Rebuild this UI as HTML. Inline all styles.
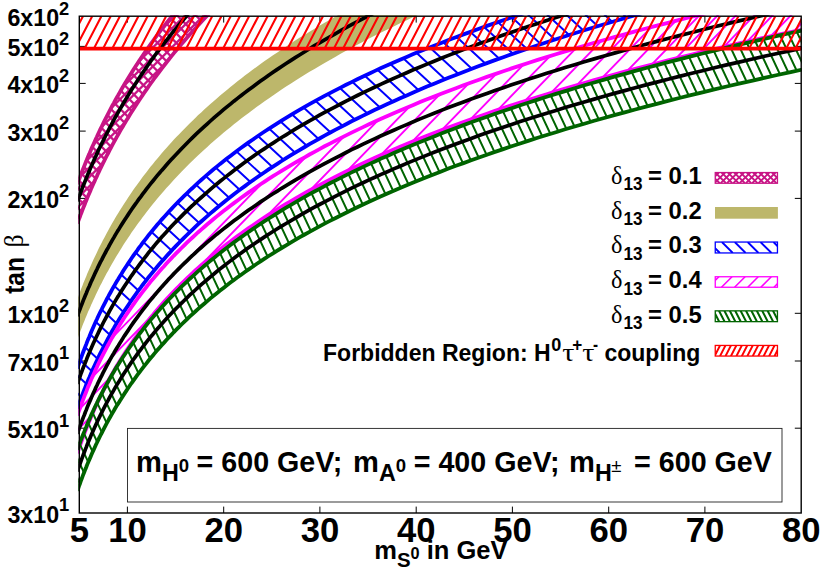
<!DOCTYPE html>
<html><head><meta charset="utf-8"><title>plot</title>
<style>html,body{margin:0;padding:0;background:#fff}svg{display:block}</style></head>
<body>
<svg width="830" height="581" viewBox="0 0 830 581">
<rect width="830" height="581" fill="#fff"/>
<defs>
<clipPath id="cf"><rect x="78.3" y="15.2" width="723.4" height="498.8"/></clipPath>
<clipPath id="cbv"><polygon points="77.4,184.2 78.2,181.9 79.0,179.7 79.9,177.4 80.7,175.1 81.6,172.8 82.5,170.5 83.4,168.2 84.4,165.8 85.3,163.5 86.3,161.1 87.2,158.7 88.2,156.3 89.3,153.9 90.3,151.5 91.3,149.1 92.4,146.6 93.5,144.2 94.6,141.7 95.7,139.2 96.9,136.7 98.0,134.2 99.2,131.7 100.4,129.1 101.7,126.6 102.9,124.0 104.2,121.5 105.5,118.9 106.8,116.3 108.2,113.7 109.5,111.0 110.9,108.4 112.3,105.7 113.8,103.1 115.2,100.4 116.7,97.7 118.3,95.0 119.8,92.3 121.4,89.5 123.0,86.8 124.6,84.0 126.3,81.3 128.0,78.5 129.7,75.7 131.4,72.9 133.2,70.1 135.0,67.2 136.9,64.4 138.7,61.5 140.7,58.6 142.6,55.8 144.6,52.9 146.6,49.9 148.6,47.0 150.7,44.1 152.9,41.1 155.0,38.2 157.2,35.2 159.5,32.2 161.7,29.2 164.1,26.2 166.4,23.2 168.8,20.1 171.3,17.1 173.7,14.0 176.3,10.9 178.9,7.8 181.5,4.7 184.2,1.6 186.9,-1.5 189.6,-4.7 192.5,-7.9 195.3,-11.0 198.2,-14.2 201.2,-17.4 204.2,-20.6 207.3,-23.8 210.4,-27.1 213.6,-30.3 216.8,-33.6 220.1,-36.9 223.5,-40.2 226.9,-43.5 230.4,-46.8 233.9,-50.1 237.5,-53.4 241.2,-56.8 244.9,-60.2 248.7,-63.5 252.6,-66.9 256.5,-70.3 260.5,-73.8 264.6,-77.2 268.7,-80.6 273.0,-84.1 277.3,-87.6 281.6,-91.0 286.1,-94.5 290.6,-98.0 295.2,-101.6 299.9,-105.1 304.7,-108.6 309.5,-112.2 314.5,-115.8 319.5,-119.4 324.6,-123.0 329.9,-126.6 335.2,-130.2 340.6,-133.8 346.1,-137.5 351.6,-141.2 357.3,-144.8 363.1,-148.5 369.0,-152.2 375.0,-156.0 381.1,-159.7 387.4,-163.4 393.7,-167.2 400.1,-170.9 406.7,-174.7 413.3,-178.5 420.1,-182.3 427.0,-186.2 434.1,-190.0 441.2,-193.8 448.5,-197.7 455.9,-201.6 463.5,-205.4 471.2,-209.3 479.0,-213.3 486.9,-217.2 495.0,-221.1 503.3,-225.1 511.6,-229.0 520.2,-233.0 528.9,-237.0 537.7,-241.0 546.7,-245.0 555.9,-249.0 565.2,-253.1 574.7,-257.1 584.3,-261.2 594.2,-265.3 604.2,-269.4 614.3,-273.5 624.7,-277.6 635.2,-281.7 646.0,-285.9 656.9,-290.0 668.0,-294.2 679.3,-298.4 690.8,-302.6 702.5,-306.8 714.5,-311.0 726.6,-315.3 739.0,-319.5 751.5,-323.8 764.3,-328.0 777.3,-332.3 790.6,-336.6 804.1,-340.9 804.1,-301.6 790.6,-297.2 777.3,-292.9 764.3,-288.7 751.5,-284.4 739.0,-280.1 726.6,-275.9 714.5,-271.6 702.5,-267.4 690.8,-263.2 679.3,-259.0 668.0,-254.8 656.9,-250.7 646.0,-246.5 635.2,-242.4 624.7,-238.2 614.3,-234.1 604.2,-230.0 594.2,-225.9 584.3,-221.8 574.7,-217.8 565.2,-213.7 555.9,-209.7 546.7,-205.6 537.7,-201.6 528.9,-197.6 520.2,-193.6 511.6,-189.7 503.3,-185.7 495.0,-181.7 486.9,-177.8 479.0,-173.9 471.2,-170.0 463.5,-166.1 455.9,-162.2 448.5,-158.3 441.2,-154.5 434.1,-150.6 427.0,-146.8 420.1,-143.0 413.3,-139.1 406.7,-135.4 400.1,-131.6 393.7,-127.8 387.4,-124.0 381.1,-120.3 375.0,-116.6 369.0,-112.9 363.1,-109.2 357.3,-105.5 351.6,-101.8 346.1,-98.1 340.6,-94.5 335.2,-90.8 329.9,-87.2 324.6,-83.6 319.5,-80.0 314.5,-76.4 309.5,-72.8 304.7,-69.3 299.9,-65.7 295.2,-62.2 290.6,-58.7 286.1,-55.2 281.6,-51.7 277.3,-48.2 273.0,-44.7 268.7,-41.2 264.6,-37.8 260.5,-34.4 256.5,-31.0 252.6,-27.6 248.7,-24.2 244.9,-20.8 241.2,-17.4 237.5,-14.1 233.9,-10.7 230.4,-7.4 226.9,-4.1 223.5,-0.8 220.1,2.5 216.8,5.8 213.6,9.1 210.4,12.3 207.3,15.5 204.2,18.8 201.2,22.0 198.2,25.2 195.3,28.4 192.5,31.5 189.6,34.7 186.9,37.8 184.2,41.0 181.5,44.1 178.9,47.2 176.3,50.3 173.7,53.4 171.3,56.4 168.8,59.5 166.4,62.5 164.1,65.6 161.7,68.6 159.5,71.6 157.2,74.6 155.0,77.5 152.9,80.5 150.7,83.5 148.6,86.4 146.6,89.3 144.6,92.2 142.6,95.1 140.7,98.0 138.7,100.9 136.9,103.8 135.0,106.6 133.2,109.4 131.4,112.3 129.7,115.1 128.0,117.9 126.3,120.6 124.6,123.4 123.0,126.2 121.4,128.9 119.8,131.6 118.3,134.4 116.7,137.1 115.2,139.8 113.8,142.4 112.3,145.1 110.9,147.8 109.5,150.4 108.2,153.0 106.8,155.6 105.5,158.2 104.2,160.8 102.9,163.4 101.7,166.0 100.4,168.5 99.2,171.1 98.0,173.6 96.9,176.1 95.7,178.6 94.6,181.1 93.5,183.5 92.4,186.0 91.3,188.4 90.3,190.9 89.3,193.3 88.2,195.7 87.2,198.1 86.3,200.5 85.3,202.8 84.4,205.2 83.4,207.5 82.5,209.9 81.6,212.2 80.7,214.5 79.9,216.8 79.0,219.1 78.2,221.3 77.4,223.6"/></clipPath>
<clipPath id="cbk"><polygon points="77.4,299.2 78.2,296.9 79.0,294.6 79.9,292.3 80.7,290.1 81.6,287.8 82.5,285.5 83.4,283.1 84.4,280.8 85.3,278.5 86.3,276.2 87.2,273.8 88.2,271.5 89.3,269.1 90.3,266.8 91.3,264.4 92.4,262.0 93.5,259.6 94.6,257.3 95.7,254.9 96.9,252.5 98.0,250.0 99.2,247.6 100.4,245.2 101.7,242.8 102.9,240.3 104.2,237.9 105.5,235.4 106.8,233.0 108.2,230.5 109.5,228.1 110.9,225.6 112.3,223.1 113.8,220.6 115.2,218.1 116.7,215.6 118.3,213.1 119.8,210.6 121.4,208.0 123.0,205.5 124.6,202.9 126.3,200.4 128.0,197.8 129.7,195.3 131.4,192.7 133.2,190.1 135.0,187.6 136.9,185.0 138.7,182.4 140.7,179.8 142.6,177.1 144.6,174.5 146.6,171.9 148.6,169.3 150.7,166.6 152.9,164.0 155.0,161.3 157.2,158.7 159.5,156.0 161.7,153.3 164.1,150.6 166.4,148.0 168.8,145.3 171.3,142.6 173.7,139.8 176.3,137.1 178.9,134.4 181.5,131.7 184.2,128.9 186.9,126.2 189.6,123.4 192.5,120.7 195.3,117.9 198.2,115.1 201.2,112.4 204.2,109.6 207.3,106.8 210.4,104.0 213.6,101.2 216.8,98.4 220.1,95.5 223.5,92.7 226.9,89.9 230.4,87.0 233.9,84.2 237.5,81.3 241.2,78.5 244.9,75.6 248.7,72.7 252.6,69.8 256.5,66.9 260.5,64.0 264.6,61.1 268.7,58.2 273.0,55.3 277.3,52.4 281.6,49.5 286.1,46.5 290.6,43.6 295.2,40.6 299.9,37.6 304.7,34.7 309.5,31.7 314.5,28.7 319.5,25.7 324.6,22.7 329.9,19.7 335.2,16.7 340.6,13.7 346.1,10.7 351.6,7.7 357.3,4.6 363.1,1.6 369.0,-1.5 375.0,-4.5 381.1,-7.6 387.4,-10.7 393.7,-13.8 400.1,-16.8 406.7,-19.9 413.3,-23.0 420.1,-26.2 427.0,-29.3 434.1,-32.4 441.2,-35.5 448.5,-38.7 455.9,-41.8 463.5,-44.9 471.2,-48.1 479.0,-51.3 486.9,-54.4 495.0,-57.6 503.3,-60.8 511.6,-64.0 520.2,-67.2 528.9,-70.4 537.7,-73.6 546.7,-76.8 555.9,-80.1 565.2,-83.3 574.7,-86.5 584.3,-89.8 594.2,-93.0 604.2,-96.3 614.3,-99.6 624.7,-102.8 635.2,-106.1 646.0,-109.4 656.9,-112.7 668.0,-116.0 679.3,-119.3 690.8,-122.6 702.5,-126.0 714.5,-129.3 726.6,-132.6 739.0,-136.0 751.5,-139.3 764.3,-142.7 777.3,-146.1 790.6,-149.4 804.1,-152.8 804.1,-112.7 790.6,-109.3 777.3,-105.9 764.3,-102.6 751.5,-99.2 739.0,-95.8 726.6,-92.5 714.5,-89.2 702.5,-85.8 690.8,-82.5 679.3,-79.2 668.0,-75.9 656.9,-72.6 646.0,-69.3 635.2,-66.0 624.7,-62.7 614.3,-59.4 604.2,-56.2 594.2,-52.9 584.3,-49.6 574.7,-46.4 565.2,-43.2 555.9,-39.9 546.7,-36.7 537.7,-33.5 528.9,-30.3 520.2,-27.1 511.6,-23.9 503.3,-20.7 495.0,-17.5 486.9,-14.3 479.0,-11.1 471.2,-8.0 463.5,-4.8 455.9,-1.7 448.5,1.5 441.2,4.6 434.1,7.7 427.0,10.9 420.1,14.0 413.3,17.1 406.7,20.2 400.1,23.3 393.7,26.4 387.4,29.5 381.1,32.5 375.0,35.6 369.0,38.6 363.1,41.7 357.3,44.7 351.6,47.8 346.1,50.8 340.6,53.8 335.2,56.9 329.9,59.9 324.6,62.9 319.5,65.9 314.5,68.9 309.5,71.8 304.7,74.8 299.9,77.8 295.2,80.7 290.6,83.7 286.1,86.6 281.6,89.6 277.3,92.5 273.0,95.4 268.7,98.4 264.6,101.3 260.5,104.2 256.5,107.1 252.6,110.0 248.7,112.9 244.9,115.7 241.2,118.6 237.5,121.5 233.9,124.3 230.4,127.2 226.9,130.0 223.5,132.8 220.1,135.7 216.8,138.5 213.6,141.3 210.4,144.1 207.3,146.9 204.2,149.7 201.2,152.5 198.2,155.3 195.3,158.1 192.5,160.8 189.6,163.6 186.9,166.3 184.2,169.1 181.5,171.8 178.9,174.5 176.3,177.3 173.7,180.0 171.3,182.7 168.8,185.4 166.4,188.1 164.1,190.8 161.7,193.5 159.5,196.1 157.2,198.8 155.0,201.5 152.9,204.1 150.7,206.8 148.6,209.4 146.6,212.0 144.6,214.7 142.6,217.3 140.7,219.9 138.7,222.5 136.9,225.1 135.0,227.7 133.2,230.3 131.4,232.8 129.7,235.4 128.0,238.0 126.3,240.5 124.6,243.1 123.0,245.6 121.4,248.2 119.8,250.7 118.3,253.2 116.7,255.7 115.2,258.2 113.8,260.7 112.3,263.2 110.9,265.7 109.5,268.2 108.2,270.7 106.8,273.1 105.5,275.6 104.2,278.0 102.9,280.5 101.7,282.9 100.4,285.3 99.2,287.8 98.0,290.2 96.9,292.6 95.7,295.0 94.6,297.4 93.5,299.8 92.4,302.2 91.3,304.5 90.3,306.9 89.3,309.3 88.2,311.6 87.2,314.0 86.3,316.3 85.3,318.6 84.4,321.0 83.4,323.3 82.5,325.6 81.6,327.9 80.7,330.2 79.9,332.5 79.0,334.8 78.2,337.0 77.4,339.3"/></clipPath>
<clipPath id="cbb"><polygon points="77.4,368.6 78.2,366.2 79.0,363.7 79.9,361.3 80.7,358.8 81.6,356.4 82.5,353.9 83.4,351.5 84.4,349.0 85.3,346.6 86.3,344.1 87.2,341.6 88.2,339.2 89.3,336.7 90.3,334.2 91.3,331.7 92.4,329.3 93.5,326.8 94.6,324.3 95.7,321.8 96.9,319.3 98.0,316.8 99.2,314.3 100.4,311.8 101.7,309.3 102.9,306.8 104.2,304.3 105.5,301.8 106.8,299.2 108.2,296.7 109.5,294.2 110.9,291.7 112.3,289.1 113.8,286.6 115.2,284.1 116.7,281.5 118.3,279.0 119.8,276.4 121.4,273.9 123.0,271.3 124.6,268.8 126.3,266.2 128.0,263.6 129.7,261.1 131.4,258.5 133.2,255.9 135.0,253.4 136.9,250.8 138.7,248.2 140.7,245.6 142.6,243.0 144.6,240.4 146.6,237.8 148.6,235.2 150.7,232.6 152.9,230.0 155.0,227.4 157.2,224.8 159.5,222.2 161.7,219.6 164.1,217.0 166.4,214.4 168.8,211.7 171.3,209.1 173.7,206.5 176.3,203.8 178.9,201.2 181.5,198.6 184.2,195.9 186.9,193.3 189.6,190.6 192.5,188.0 195.3,185.3 198.2,182.6 201.2,180.0 204.2,177.3 207.3,174.6 210.4,172.0 213.6,169.3 216.8,166.6 220.1,163.9 223.5,161.3 226.9,158.6 230.4,155.9 233.9,153.2 237.5,150.5 241.2,147.8 244.9,145.1 248.7,142.4 252.6,139.7 256.5,137.0 260.5,134.2 264.6,131.5 268.7,128.8 273.0,126.1 277.3,123.3 281.6,120.6 286.1,117.9 290.6,115.1 295.2,112.4 299.9,109.7 304.7,106.9 309.5,104.2 314.5,101.4 319.5,98.7 324.6,95.9 329.9,93.1 335.2,90.4 340.6,87.6 346.1,84.8 351.6,82.1 357.3,79.3 363.1,76.5 369.0,73.7 375.0,70.9 381.1,68.1 387.4,65.3 393.7,62.5 400.1,59.7 406.7,56.9 413.3,54.1 420.1,51.3 427.0,48.5 434.1,45.7 441.2,42.9 448.5,40.1 455.9,37.2 463.5,34.4 471.2,31.6 479.0,28.7 486.9,25.9 495.0,23.1 503.3,20.2 511.6,17.4 520.2,14.5 528.9,11.7 537.7,8.8 546.7,6.0 555.9,3.1 565.2,0.2 574.7,-2.6 584.3,-5.5 594.2,-8.4 604.2,-11.3 614.3,-14.1 624.7,-17.0 635.2,-19.9 646.0,-22.8 656.9,-25.7 668.0,-28.6 679.3,-31.5 690.8,-34.4 702.5,-37.3 714.5,-40.2 726.6,-43.1 739.0,-46.0 751.5,-49.0 764.3,-51.9 777.3,-54.8 790.6,-57.7 804.1,-60.7 804.1,-27.8 790.6,-24.7 777.3,-21.6 764.3,-18.5 751.5,-15.4 739.0,-12.4 726.6,-9.3 714.5,-6.2 702.5,-3.2 690.8,-0.1 679.3,3.0 668.0,6.0 656.9,9.1 646.0,12.1 635.2,15.1 624.7,18.2 614.3,21.2 604.2,24.2 594.2,27.2 584.3,30.2 574.7,33.3 565.2,36.3 555.9,39.3 546.7,42.3 537.7,45.2 528.9,48.2 520.2,51.2 511.6,54.2 503.3,57.2 495.0,60.1 486.9,63.1 479.0,66.0 471.2,69.0 463.5,71.9 455.9,74.9 448.5,77.8 441.2,80.8 434.1,83.7 427.0,86.6 420.1,89.5 413.3,92.4 406.7,95.4 400.1,98.3 393.7,101.2 387.4,104.1 381.1,107.0 375.0,109.8 369.0,112.7 363.1,115.6 357.3,118.5 351.6,121.3 346.1,124.2 340.6,127.1 335.2,129.9 329.9,132.8 324.6,135.6 319.5,138.5 314.5,141.3 309.5,144.1 304.7,147.0 299.9,149.8 295.2,152.6 290.6,155.4 286.1,158.2 281.6,161.0 277.3,163.8 273.0,166.6 268.7,169.4 264.6,172.2 260.5,175.0 256.5,177.8 252.6,180.5 248.7,183.3 244.9,186.1 241.2,188.8 237.5,191.6 233.9,194.3 230.4,197.1 226.9,199.8 223.5,202.5 220.1,205.3 216.8,208.0 213.6,210.7 210.4,213.4 207.3,216.1 204.2,218.8 201.2,221.5 198.2,224.2 195.3,226.9 192.5,229.6 189.6,232.3 186.9,235.0 184.2,237.7 181.5,240.3 178.9,243.0 176.3,245.7 173.7,248.3 171.3,251.0 168.8,253.6 166.4,256.2 164.1,258.9 161.7,261.5 159.5,264.1 157.2,266.8 155.0,269.4 152.9,272.0 150.7,274.6 148.6,277.2 146.6,279.8 144.6,282.4 142.6,285.0 140.7,287.6 138.7,290.2 136.9,292.7 135.0,295.3 133.2,297.9 131.4,300.4 129.7,303.0 128.0,305.6 126.3,308.1 124.6,310.6 123.0,313.2 121.4,315.7 119.8,318.3 118.3,320.8 116.7,323.3 115.2,325.8 113.8,328.3 112.3,330.8 110.9,333.3 109.5,335.8 108.2,338.3 106.8,340.8 105.5,343.3 104.2,345.8 102.9,348.3 101.7,350.7 100.4,353.2 99.2,355.6 98.0,358.1 96.9,360.6 95.7,363.0 94.6,365.4 93.5,367.9 92.4,370.3 91.3,372.7 90.3,375.2 89.3,377.6 88.2,380.0 87.2,382.4 86.3,384.8 85.3,387.2 84.4,389.6 83.4,392.0 82.5,394.4 81.6,396.8 80.7,399.1 79.9,401.5 79.0,403.9 78.2,406.2 77.4,408.6"/></clipPath>
<clipPath id="cbm"><polygon points="77.4,415.6 78.2,413.2 79.0,410.8 79.9,408.4 80.7,406.0 81.6,403.6 82.5,401.2 83.4,398.8 84.4,396.3 85.3,393.9 86.3,391.5 87.2,389.1 88.2,386.6 89.3,384.2 90.3,381.8 91.3,379.3 92.4,376.9 93.5,374.4 94.6,372.0 95.7,369.5 96.9,367.1 98.0,364.6 99.2,362.2 100.4,359.7 101.7,357.2 102.9,354.8 104.2,352.3 105.5,349.8 106.8,347.3 108.2,344.8 109.5,342.3 110.9,339.9 112.3,337.4 113.8,334.9 115.2,332.4 116.7,329.9 118.3,327.3 119.8,324.8 121.4,322.3 123.0,319.8 124.6,317.3 126.3,314.8 128.0,312.2 129.7,309.7 131.4,307.2 133.2,304.6 135.0,302.1 136.9,299.5 138.7,297.0 140.7,294.4 142.6,291.9 144.6,289.3 146.6,286.8 148.6,284.2 150.7,281.6 152.9,279.1 155.0,276.5 157.2,273.9 159.5,271.3 161.7,268.7 164.1,266.2 166.4,263.6 168.8,261.0 171.3,258.4 173.7,255.8 176.3,253.2 178.9,250.6 181.5,248.0 184.2,245.3 186.9,242.7 189.6,240.1 192.5,237.5 195.3,234.9 198.2,232.2 201.2,229.6 204.2,227.0 207.3,224.3 210.4,221.7 213.6,219.0 216.8,216.4 220.1,213.7 223.5,211.1 226.9,208.4 230.4,205.7 233.9,203.1 237.5,200.4 241.2,197.7 244.9,195.1 248.7,192.4 252.6,189.7 256.5,187.0 260.5,184.3 264.6,181.6 268.7,178.9 273.0,176.2 277.3,173.5 281.6,170.8 286.1,168.1 290.6,165.4 295.2,162.7 299.9,160.0 304.7,157.3 309.5,154.5 314.5,151.8 319.5,149.1 324.6,146.3 329.9,143.6 335.2,140.9 340.6,138.1 346.1,135.4 351.6,132.6 357.3,129.9 363.1,127.1 369.0,124.3 375.0,121.6 381.1,118.8 387.4,116.0 393.7,113.3 400.1,110.5 406.7,107.7 413.3,104.9 420.1,102.1 427.0,99.3 434.1,96.6 441.2,93.8 448.5,91.0 455.9,88.2 463.5,85.3 471.2,82.5 479.0,79.7 486.9,76.9 495.0,74.1 503.3,71.3 511.6,68.4 520.2,65.6 528.9,62.8 537.7,59.9 546.7,57.1 555.9,54.3 565.2,51.4 574.7,48.6 584.3,45.7 594.2,42.8 604.2,40.0 614.3,37.1 624.7,34.3 635.2,31.4 646.0,28.5 656.9,25.6 668.0,22.8 679.3,19.9 690.8,17.0 702.5,14.1 714.5,11.2 726.6,8.3 739.0,5.4 751.5,2.5 764.3,-0.4 777.3,-3.3 790.6,-6.2 804.1,-9.1 804.1,29.2 790.6,32.0 777.3,34.9 764.3,37.7 751.5,40.6 739.0,43.4 726.6,46.3 714.5,49.1 702.5,51.9 690.8,54.8 679.3,57.6 668.0,60.4 656.9,63.3 646.0,66.1 635.2,68.9 624.7,71.7 614.3,74.5 604.2,77.3 594.2,80.2 584.3,83.0 574.7,85.8 565.2,88.6 555.9,91.4 546.7,94.2 537.7,97.0 528.9,99.8 520.2,102.5 511.6,105.3 503.3,108.1 495.0,110.9 486.9,113.7 479.0,116.5 471.2,119.2 463.5,122.0 455.9,124.8 448.5,127.5 441.2,130.3 434.1,133.1 427.0,135.8 420.1,138.6 413.3,141.3 406.7,144.1 400.1,146.8 393.7,149.6 387.4,152.3 381.1,155.1 375.0,157.8 369.0,160.6 363.1,163.3 357.3,166.0 351.6,168.8 346.1,171.5 340.6,174.2 335.2,176.9 329.9,179.6 324.6,182.4 319.5,185.1 314.5,187.8 309.5,190.5 304.7,193.2 299.9,195.9 295.2,198.6 290.6,201.3 286.1,204.0 281.6,206.7 277.3,209.4 273.0,212.1 268.7,214.7 264.6,217.4 260.5,220.1 256.5,222.8 252.6,225.5 248.7,228.1 244.9,230.8 241.2,233.5 237.5,236.1 233.9,238.8 230.4,241.5 226.9,244.1 223.5,246.8 220.1,249.4 216.8,252.1 213.6,254.7 210.4,257.4 207.3,260.0 204.2,262.6 201.2,265.3 198.2,267.9 195.3,270.5 192.5,273.2 189.6,275.8 186.9,278.4 184.2,281.0 181.5,283.7 178.9,286.3 176.3,288.9 173.7,291.5 171.3,294.1 168.8,296.7 166.4,299.3 164.1,301.9 161.7,304.5 159.5,307.1 157.2,309.7 155.0,312.3 152.9,314.9 150.7,317.5 148.6,320.1 146.6,322.6 144.6,325.2 142.6,327.8 140.7,330.4 138.7,332.9 136.9,335.5 135.0,338.1 133.2,340.6 131.4,343.2 129.7,345.7 128.0,348.3 126.3,350.8 124.6,353.4 123.0,355.9 121.4,358.5 119.8,361.0 118.3,363.6 116.7,366.1 115.2,368.6 113.8,371.2 112.3,373.7 110.9,376.2 109.5,378.7 108.2,381.3 106.8,383.8 105.5,386.3 104.2,388.8 102.9,391.3 101.7,393.8 100.4,396.3 99.2,398.8 98.0,401.3 96.9,403.8 95.7,406.3 94.6,408.8 93.5,411.3 92.4,413.8 91.3,416.3 90.3,418.8 89.3,421.3 88.2,423.7 87.2,426.2 86.3,428.7 85.3,431.1 84.4,433.6 83.4,436.1 82.5,438.5 81.6,441.0 80.7,443.5 79.9,445.9 79.0,448.4 78.2,450.8 77.4,453.3"/></clipPath>
<clipPath id="cbg"><polygon points="77.4,449.9 78.2,447.6 79.0,445.3 79.9,443.0 80.7,440.6 81.6,438.3 82.5,436.0 83.4,433.7 84.4,431.4 85.3,429.0 86.3,426.7 87.2,424.3 88.2,422.0 89.3,419.6 90.3,417.3 91.3,414.9 92.4,412.6 93.5,410.2 94.6,407.8 95.7,405.5 96.9,403.1 98.0,400.7 99.2,398.3 100.4,395.9 101.7,393.5 102.9,391.1 104.2,388.7 105.5,386.3 106.8,383.9 108.2,381.5 109.5,379.1 110.9,376.6 112.3,374.2 113.8,371.8 115.2,369.3 116.7,366.9 118.3,364.5 119.8,362.0 121.4,359.6 123.0,357.1 124.6,354.7 126.3,352.2 128.0,349.7 129.7,347.2 131.4,344.8 133.2,342.3 135.0,339.8 136.9,337.3 138.7,334.8 140.7,332.3 142.6,329.8 144.6,327.3 146.6,324.8 148.6,322.3 150.7,319.8 152.9,317.3 155.0,314.7 157.2,312.2 159.5,309.7 161.7,307.1 164.1,304.6 166.4,302.1 168.8,299.5 171.3,297.0 173.7,294.4 176.3,291.8 178.9,289.3 181.5,286.7 184.2,284.1 186.9,281.6 189.6,279.0 192.5,276.4 195.3,273.8 198.2,271.2 201.2,268.6 204.2,266.0 207.3,263.4 210.4,260.8 213.6,258.2 216.8,255.6 220.1,252.9 223.5,250.3 226.9,247.7 230.4,245.0 233.9,242.4 237.5,239.8 241.2,237.1 244.9,234.5 248.7,231.8 252.6,229.2 256.5,226.5 260.5,223.8 264.6,221.2 268.7,218.5 273.0,215.8 277.3,213.1 281.6,210.4 286.1,207.7 290.6,205.1 295.2,202.4 299.9,199.6 304.7,196.9 309.5,194.2 314.5,191.5 319.5,188.8 324.6,186.1 329.9,183.3 335.2,180.6 340.6,177.9 346.1,175.1 351.6,172.4 357.3,169.7 363.1,166.9 369.0,164.1 375.0,161.4 381.1,158.6 387.4,155.9 393.7,153.1 400.1,150.3 406.7,147.5 413.3,144.7 420.1,142.0 427.0,139.2 434.1,136.4 441.2,133.6 448.5,130.8 455.9,128.0 463.5,125.1 471.2,122.3 479.0,119.5 486.9,116.7 495.0,113.8 503.3,111.0 511.6,108.2 520.2,105.3 528.9,102.5 537.7,99.6 546.7,96.8 555.9,93.9 565.2,91.1 574.7,88.2 584.3,85.3 594.2,82.5 604.2,79.6 614.3,76.7 624.7,73.8 635.2,70.9 646.0,68.0 656.9,65.1 668.0,62.2 679.3,59.3 690.8,56.4 702.5,53.5 714.5,50.6 726.6,47.7 739.0,44.7 751.5,41.8 764.3,38.9 777.3,35.9 790.6,33.0 804.1,30.1 804.1,69.2 790.6,72.1 777.3,75.0 764.3,77.9 751.5,80.8 739.0,83.7 726.6,86.5 714.5,89.4 702.5,92.3 690.8,95.2 679.3,98.0 668.0,100.9 656.9,103.8 646.0,106.6 635.2,109.5 624.7,112.3 614.3,115.2 604.2,118.0 594.2,120.8 584.3,123.7 574.7,126.5 565.2,129.3 555.9,132.2 546.7,135.0 537.7,137.8 528.9,140.6 520.2,143.5 511.6,146.3 503.3,149.1 495.0,151.9 486.9,154.7 479.0,157.5 471.2,160.3 463.5,163.1 455.9,165.8 448.5,168.6 441.2,171.4 434.1,174.2 427.0,177.0 420.1,179.7 413.3,182.5 406.7,185.3 400.1,188.0 393.7,190.8 387.4,193.5 381.1,196.3 375.0,199.0 369.0,201.8 363.1,204.5 357.3,207.3 351.6,210.0 346.1,212.7 340.6,215.5 335.2,218.2 329.9,220.9 324.6,223.6 319.5,226.4 314.5,229.1 309.5,231.8 304.7,234.5 299.9,237.2 295.2,239.9 290.6,242.6 286.1,245.3 281.6,248.0 277.3,250.6 273.0,253.3 268.7,256.0 264.6,258.7 260.5,261.4 256.5,264.0 252.6,266.7 248.7,269.4 244.9,272.0 241.2,274.7 237.5,277.3 233.9,280.0 230.4,282.6 226.9,285.3 223.5,287.9 220.1,290.6 216.8,293.2 213.6,295.8 210.4,298.4 207.3,301.1 204.2,303.7 201.2,306.3 198.2,308.9 195.3,311.5 192.5,314.1 189.6,316.7 186.9,319.3 184.2,321.9 181.5,324.5 178.9,327.1 176.3,329.7 173.7,332.3 171.3,334.9 168.8,337.5 166.4,340.0 164.1,342.6 161.7,345.2 159.5,347.7 157.2,350.3 155.0,352.9 152.9,355.4 150.7,358.0 148.6,360.5 146.6,363.1 144.6,365.6 142.6,368.1 140.7,370.7 138.7,373.2 136.9,375.7 135.0,378.3 133.2,380.8 131.4,383.3 129.7,385.8 128.0,388.3 126.3,390.9 124.6,393.4 123.0,395.9 121.4,398.4 119.8,400.9 118.3,403.4 116.7,405.8 115.2,408.3 113.8,410.8 112.3,413.3 110.9,415.8 109.5,418.2 108.2,420.7 106.8,423.2 105.5,425.6 104.2,428.1 102.9,430.6 101.7,433.0 100.4,435.5 99.2,437.9 98.0,440.4 96.9,442.8 95.7,445.2 94.6,447.7 93.5,450.1 92.4,452.5 91.3,455.0 90.3,457.4 89.3,459.8 88.2,462.2 87.2,464.6 86.3,467.0 85.3,469.4 84.4,471.8 83.4,474.2 82.5,476.6 81.6,479.0 80.7,481.4 79.9,483.8 79.0,486.2 78.2,488.6 77.4,490.9"/></clipPath>
</defs>
<g stroke="#000" stroke-width="1" fill="none">
<path d="M127.4 513.0v-6.4M127.4 16.2v6.4"/>
<path d="M223.7 513.0v-6.4M223.7 16.2v6.4"/>
<path d="M319.9 513.0v-6.4M319.9 16.2v6.4"/>
<path d="M416.2 513.0v-6.4M416.2 16.2v6.4"/>
<path d="M512.4 513.0v-6.4M512.4 16.2v6.4"/>
<path d="M608.7 513.0v-6.4M608.7 16.2v6.4"/>
<path d="M704.9 513.0v-6.4M704.9 16.2v6.4"/>
<path d="M79.3 46.4h6.4M801.2 46.4h-6.4"/>
<path d="M79.3 83.4h6.4M801.2 83.4h-6.4"/>
<path d="M79.3 131.1h6.4M801.2 131.1h-6.4"/>
<path d="M79.3 198.4h6.4M801.2 198.4h-6.4"/>
<path d="M79.3 313.3h6.4M801.2 313.3h-6.4"/>
<path d="M79.3 361.0h6.4M801.2 361.0h-6.4"/>
<path d="M79.3 428.2h6.4M801.2 428.2h-6.4"/>
</g>
<g clip-path="url(#cf)">
<g clip-path="url(#cbv)"><path stroke="#C71585" stroke-width="2.30" fill="none" d="M-144.7 13.2L65.6 223.6M-135.3 13.2L75.0 223.6M-125.9 13.2L84.4 223.6M-116.5 13.2L93.8 223.6M-107.1 13.2L103.2 223.6M-97.7 13.2L112.6 223.6M-88.3 13.2L122.0 223.6M-78.9 13.2L131.4 223.6M-69.5 13.2L140.8 223.6M-60.1 13.2L150.2 223.6M-50.7 13.2L159.6 223.6M-41.3 13.2L169.0 223.6M-31.9 13.2L178.4 223.6M-22.5 13.2L187.8 223.6M-13.1 13.2L197.2 223.6M-3.7 13.2L206.6 223.6M5.7 13.2L216.0 223.6M15.1 13.2L225.4 223.6M24.5 13.2L234.8 223.6M33.9 13.2L244.2 223.6M43.3 13.2L253.6 223.6M52.7 13.2L263.0 223.6M62.1 13.2L272.4 223.6M71.5 13.2L281.8 223.6M80.9 13.2L291.2 223.6M90.3 13.2L300.6 223.6M99.7 13.2L310.0 223.6M109.1 13.2L319.4 223.6M118.5 13.2L328.8 223.6M127.9 13.2L338.2 223.6M137.3 13.2L347.6 223.6M146.7 13.2L357.0 223.6M156.1 13.2L366.4 223.6M165.5 13.2L375.8 223.6M174.9 13.2L385.2 223.6M184.3 13.2L394.6 223.6M193.7 13.2L404.0 223.6M203.1 13.2L413.4 223.6M212.5 13.2L422.8 223.6M221.9 13.2L432.2 223.6M231.3 13.2L441.6 223.6M240.7 13.2L451.0 223.6M250.1 13.2L460.4 223.6M259.5 13.2L469.8 223.6M268.9 13.2L479.2 223.6M278.3 13.2L488.6 223.6M287.7 13.2L498.0 223.6M297.1 13.2L507.4 223.6M306.5 13.2L516.8 223.6M315.9 13.2L526.2 223.6M325.3 13.2L535.6 223.6M334.7 13.2L545.0 223.6M344.1 13.2L554.4 223.6M353.5 13.2L563.8 223.6M362.9 13.2L573.2 223.6M372.3 13.2L582.6 223.6M381.7 13.2L592.0 223.6M391.1 13.2L601.4 223.6M400.5 13.2L610.8 223.6M409.9 13.2L620.2 223.6M419.3 13.2L629.6 223.6M428.7 13.2L639.0 223.6M438.1 13.2L648.4 223.6M447.5 13.2L657.8 223.6M456.9 13.2L667.2 223.6M466.3 13.2L676.6 223.6M475.7 13.2L686.0 223.6M485.1 13.2L695.4 223.6M494.5 13.2L704.8 223.6M503.9 13.2L714.2 223.6M513.3 13.2L723.6 223.6M522.7 13.2L733.0 223.6M532.1 13.2L742.4 223.6M541.5 13.2L751.8 223.6M550.9 13.2L761.2 223.6M560.3 13.2L770.6 223.6M569.7 13.2L780.0 223.6M579.1 13.2L789.4 223.6M588.5 13.2L798.8 223.6M597.9 13.2L808.2 223.6M607.3 13.2L817.6 223.6M616.7 13.2L827.0 223.6M626.1 13.2L836.4 223.6M635.5 13.2L845.8 223.6M644.9 13.2L855.2 223.6M654.3 13.2L864.6 223.6M663.7 13.2L874.0 223.6M673.1 13.2L883.4 223.6M682.5 13.2L892.8 223.6M691.9 13.2L902.2 223.6M701.3 13.2L911.6 223.6M710.7 13.2L921.0 223.6M720.1 13.2L930.4 223.6M729.5 13.2L939.8 223.6M738.9 13.2L949.2 223.6M748.3 13.2L958.6 223.6M757.7 13.2L968.0 223.6M767.1 13.2L977.4 223.6M776.5 13.2L986.8 223.6M785.9 13.2L996.2 223.6M795.3 13.2L1005.6 223.6M804.7 13.2L1015.0 223.6M814.1 13.2L1024.4 223.6"/></g>
<g clip-path="url(#cbv)"><path stroke="#C71585" stroke-width="2.30" fill="none" d="M65.0 13.2L-145.3 223.6M74.4 13.2L-135.9 223.6M83.8 13.2L-126.5 223.6M93.2 13.2L-117.1 223.6M102.6 13.2L-107.7 223.6M112.0 13.2L-98.3 223.6M121.4 13.2L-88.9 223.6M130.8 13.2L-79.5 223.6M140.2 13.2L-70.1 223.6M149.6 13.2L-60.7 223.6M159.0 13.2L-51.3 223.6M168.4 13.2L-41.9 223.6M177.8 13.2L-32.5 223.6M187.2 13.2L-23.1 223.6M196.6 13.2L-13.7 223.6M206.0 13.2L-4.3 223.6M215.4 13.2L5.1 223.6M224.8 13.2L14.5 223.6M234.2 13.2L23.9 223.6M243.6 13.2L33.3 223.6M253.0 13.2L42.7 223.6M262.4 13.2L52.1 223.6M271.8 13.2L61.5 223.6M281.2 13.2L70.9 223.6M290.6 13.2L80.3 223.6M300.0 13.2L89.7 223.6M309.4 13.2L99.1 223.6M318.8 13.2L108.5 223.6M328.2 13.2L117.9 223.6M337.6 13.2L127.3 223.6M347.0 13.2L136.7 223.6M356.4 13.2L146.1 223.6M365.8 13.2L155.5 223.6M375.2 13.2L164.9 223.6M384.6 13.2L174.3 223.6M394.0 13.2L183.7 223.6M403.4 13.2L193.1 223.6M412.8 13.2L202.5 223.6M422.2 13.2L211.9 223.6M431.6 13.2L221.3 223.6M441.0 13.2L230.7 223.6M450.4 13.2L240.1 223.6M459.8 13.2L249.5 223.6M469.2 13.2L258.9 223.6M478.6 13.2L268.3 223.6M488.0 13.2L277.7 223.6M497.4 13.2L287.1 223.6M506.8 13.2L296.5 223.6M516.2 13.2L305.9 223.6M525.6 13.2L315.3 223.6M535.0 13.2L324.7 223.6M544.4 13.2L334.1 223.6M553.8 13.2L343.5 223.6M563.2 13.2L352.9 223.6M572.6 13.2L362.3 223.6M582.0 13.2L371.7 223.6M591.4 13.2L381.1 223.6M600.8 13.2L390.5 223.6M610.2 13.2L399.9 223.6M619.6 13.2L409.3 223.6M629.0 13.2L418.7 223.6M638.4 13.2L428.1 223.6M647.8 13.2L437.5 223.6M657.2 13.2L446.9 223.6M666.6 13.2L456.3 223.6M676.0 13.2L465.7 223.6M685.4 13.2L475.1 223.6M694.8 13.2L484.5 223.6M704.2 13.2L493.9 223.6M713.6 13.2L503.3 223.6M723.0 13.2L512.7 223.6M732.4 13.2L522.1 223.6M741.8 13.2L531.5 223.6M751.2 13.2L540.9 223.6M760.6 13.2L550.3 223.6M770.0 13.2L559.7 223.6M779.4 13.2L569.1 223.6M788.8 13.2L578.5 223.6M798.2 13.2L587.9 223.6M807.6 13.2L597.3 223.6M817.0 13.2L606.7 223.6M826.4 13.2L616.1 223.6M835.8 13.2L625.5 223.6M845.2 13.2L634.9 223.6M854.6 13.2L644.3 223.6M864.0 13.2L653.7 223.6M873.4 13.2L663.1 223.6M882.8 13.2L672.5 223.6M892.2 13.2L681.9 223.6M901.6 13.2L691.3 223.6M911.0 13.2L700.7 223.6M920.4 13.2L710.1 223.6M929.8 13.2L719.5 223.6M939.2 13.2L728.9 223.6M948.6 13.2L738.3 223.6M958.0 13.2L747.7 223.6M967.4 13.2L757.1 223.6M976.8 13.2L766.5 223.6M986.2 13.2L775.9 223.6M995.6 13.2L785.3 223.6M1005.0 13.2L794.7 223.6M1014.4 13.2L804.1 223.6M1023.8 13.2L813.5 223.6M1033.2 13.2L822.9 223.6"/></g>
<polyline points="77.4,184.2 78.2,181.9 79.0,179.7 79.9,177.4 80.7,175.1 81.6,172.8 82.5,170.5 83.4,168.2 84.4,165.8 85.3,163.5 86.3,161.1 87.2,158.7 88.2,156.3 89.3,153.9 90.3,151.5 91.3,149.1 92.4,146.6 93.5,144.2 94.6,141.7 95.7,139.2 96.9,136.7 98.0,134.2 99.2,131.7 100.4,129.1 101.7,126.6 102.9,124.0 104.2,121.5 105.5,118.9 106.8,116.3 108.2,113.7 109.5,111.0 110.9,108.4 112.3,105.7 113.8,103.1 115.2,100.4 116.7,97.7 118.3,95.0 119.8,92.3 121.4,89.5 123.0,86.8 124.6,84.0 126.3,81.3 128.0,78.5 129.7,75.7 131.4,72.9 133.2,70.1 135.0,67.2 136.9,64.4 138.7,61.5 140.7,58.6 142.6,55.8 144.6,52.9 146.6,49.9 148.6,47.0 150.7,44.1 152.9,41.1 155.0,38.2 157.2,35.2 159.5,32.2 161.7,29.2 164.1,26.2 166.4,23.2 168.8,20.1 171.3,17.1 173.7,14.0 176.3,10.9 178.9,7.8 181.5,4.7 184.2,1.6 186.9,-1.5 189.6,-4.7 192.5,-7.9 195.3,-11.0 198.2,-14.2 201.2,-17.4 204.2,-20.6 207.3,-23.8 210.4,-27.1 213.6,-30.3 216.8,-33.6 220.1,-36.9 223.5,-40.2 226.9,-43.5 230.4,-46.8 233.9,-50.1 237.5,-53.4 241.2,-56.8 244.9,-60.2 248.7,-63.5 252.6,-66.9 256.5,-70.3 260.5,-73.8 264.6,-77.2 268.7,-80.6 273.0,-84.1 277.3,-87.6 281.6,-91.0 286.1,-94.5 290.6,-98.0 295.2,-101.6 299.9,-105.1 304.7,-108.6 309.5,-112.2 314.5,-115.8 319.5,-119.4 324.6,-123.0 329.9,-126.6 335.2,-130.2 340.6,-133.8 346.1,-137.5 351.6,-141.2 357.3,-144.8 363.1,-148.5 369.0,-152.2 375.0,-156.0 381.1,-159.7 387.4,-163.4 393.7,-167.2 400.1,-170.9 406.7,-174.7 413.3,-178.5 420.1,-182.3 427.0,-186.2 434.1,-190.0 441.2,-193.8 448.5,-197.7 455.9,-201.6 463.5,-205.4 471.2,-209.3 479.0,-213.3 486.9,-217.2 495.0,-221.1 503.3,-225.1 511.6,-229.0 520.2,-233.0 528.9,-237.0 537.7,-241.0 546.7,-245.0 555.9,-249.0 565.2,-253.1 574.7,-257.1 584.3,-261.2 594.2,-265.3 604.2,-269.4 614.3,-273.5 624.7,-277.6 635.2,-281.7 646.0,-285.9 656.9,-290.0 668.0,-294.2 679.3,-298.4 690.8,-302.6 702.5,-306.8 714.5,-311.0 726.6,-315.3 739.0,-319.5 751.5,-323.8 764.3,-328.0 777.3,-332.3 790.6,-336.6 804.1,-340.9" fill="none" stroke="#C71585" stroke-width="3.8"/>
<polyline points="77.4,223.6 78.2,221.3 79.0,219.1 79.9,216.8 80.7,214.5 81.6,212.2 82.5,209.9 83.4,207.5 84.4,205.2 85.3,202.8 86.3,200.5 87.2,198.1 88.2,195.7 89.3,193.3 90.3,190.9 91.3,188.4 92.4,186.0 93.5,183.5 94.6,181.1 95.7,178.6 96.9,176.1 98.0,173.6 99.2,171.1 100.4,168.5 101.7,166.0 102.9,163.4 104.2,160.8 105.5,158.2 106.8,155.6 108.2,153.0 109.5,150.4 110.9,147.8 112.3,145.1 113.8,142.4 115.2,139.8 116.7,137.1 118.3,134.4 119.8,131.6 121.4,128.9 123.0,126.2 124.6,123.4 126.3,120.6 128.0,117.9 129.7,115.1 131.4,112.3 133.2,109.4 135.0,106.6 136.9,103.8 138.7,100.9 140.7,98.0 142.6,95.1 144.6,92.2 146.6,89.3 148.6,86.4 150.7,83.5 152.9,80.5 155.0,77.5 157.2,74.6 159.5,71.6 161.7,68.6 164.1,65.6 166.4,62.5 168.8,59.5 171.3,56.4 173.7,53.4 176.3,50.3 178.9,47.2 181.5,44.1 184.2,41.0 186.9,37.8 189.6,34.7 192.5,31.5 195.3,28.4 198.2,25.2 201.2,22.0 204.2,18.8 207.3,15.5 210.4,12.3 213.6,9.1 216.8,5.8 220.1,2.5 223.5,-0.8 226.9,-4.1 230.4,-7.4 233.9,-10.7 237.5,-14.1 241.2,-17.4 244.9,-20.8 248.7,-24.2 252.6,-27.6 256.5,-31.0 260.5,-34.4 264.6,-37.8 268.7,-41.2 273.0,-44.7 277.3,-48.2 281.6,-51.7 286.1,-55.2 290.6,-58.7 295.2,-62.2 299.9,-65.7 304.7,-69.3 309.5,-72.8 314.5,-76.4 319.5,-80.0 324.6,-83.6 329.9,-87.2 335.2,-90.8 340.6,-94.5 346.1,-98.1 351.6,-101.8 357.3,-105.5 363.1,-109.2 369.0,-112.9 375.0,-116.6 381.1,-120.3 387.4,-124.0 393.7,-127.8 400.1,-131.6 406.7,-135.4 413.3,-139.1 420.1,-143.0 427.0,-146.8 434.1,-150.6 441.2,-154.5 448.5,-158.3 455.9,-162.2 463.5,-166.1 471.2,-170.0 479.0,-173.9 486.9,-177.8 495.0,-181.7 503.3,-185.7 511.6,-189.7 520.2,-193.6 528.9,-197.6 537.7,-201.6 546.7,-205.6 555.9,-209.7 565.2,-213.7 574.7,-217.8 584.3,-221.8 594.2,-225.9 604.2,-230.0 614.3,-234.1 624.7,-238.2 635.2,-242.4 646.0,-246.5 656.9,-250.7 668.0,-254.8 679.3,-259.0 690.8,-263.2 702.5,-267.4 714.5,-271.6 726.6,-275.9 739.0,-280.1 751.5,-284.4 764.3,-288.7 777.3,-292.9 790.6,-297.2 804.1,-301.6" fill="none" stroke="#C71585" stroke-width="3.8"/>
<polyline points="77.4,201.3 78.2,199.1 79.0,196.8 79.9,194.5 80.7,192.3 81.6,190.0 82.5,187.6 83.4,185.3 84.4,183.0 85.3,180.6 86.3,178.2 87.2,175.9 88.2,173.5 89.3,171.1 90.3,168.6 91.3,166.2 92.4,163.8 93.5,161.3 94.6,158.8 95.7,156.4 96.9,153.9 98.0,151.3 99.2,148.8 100.4,146.3 101.7,143.7 102.9,141.2 104.2,138.6 105.5,136.0 106.8,133.4 108.2,130.8 109.5,128.2 110.9,125.5 112.3,122.9 113.8,120.2 115.2,117.5 116.7,114.8 118.3,112.1 119.8,109.4 121.4,106.7 123.0,103.9 124.6,101.2 126.3,98.4 128.0,95.6 129.7,92.8 131.4,90.0 133.2,87.2 135.0,84.4 136.9,81.5 138.7,78.7 140.7,75.8 142.6,72.9 144.6,70.0 146.6,67.1 148.6,64.2 150.7,61.2 152.9,58.3 155.0,55.3 157.2,52.3 159.5,49.4 161.7,46.3 164.1,43.3 166.4,40.3 168.8,37.3 171.3,34.2 173.7,31.1 176.3,28.1 178.9,25.0 181.5,21.9 184.2,18.7 186.9,15.6 189.6,12.5 192.5,9.3 195.3,6.1 198.2,2.9 201.2,-0.3 204.2,-3.5 207.3,-6.7 210.4,-9.9 213.6,-13.2 216.8,-16.4 220.1,-19.7 223.5,-23.0 226.9,-26.3 230.4,-29.6 233.9,-32.9 237.5,-36.3 241.2,-39.6 244.9,-43.0 248.7,-46.4 252.6,-49.8 256.5,-53.2 260.5,-56.6 264.6,-60.0 268.7,-63.5 273.0,-66.9 277.3,-70.4 281.6,-73.9 286.1,-77.4 290.6,-80.9 295.2,-84.4 299.9,-88.0 304.7,-91.5 309.5,-95.1 314.5,-98.6 319.5,-102.2 324.6,-105.8 329.9,-109.4 335.2,-113.1 340.6,-116.7 346.1,-120.3 351.6,-124.0 357.3,-127.7 363.1,-131.4 369.0,-135.1 375.0,-138.8 381.1,-142.5 387.4,-146.3 393.7,-150.0 400.1,-153.8 406.7,-157.6 413.3,-161.4 420.1,-165.2 427.0,-169.0 434.1,-172.8 441.2,-176.7 448.5,-180.5 455.9,-184.4 463.5,-188.3 471.2,-192.2 479.0,-196.1 486.9,-200.0 495.0,-204.0 503.3,-207.9 511.6,-211.9 520.2,-215.9 528.9,-219.8 537.7,-223.8 546.7,-227.9 555.9,-231.9 565.2,-235.9 574.7,-240.0 584.3,-244.1 594.2,-248.1 604.2,-252.2 614.3,-256.3 624.7,-260.5 635.2,-264.6 646.0,-268.7 656.9,-272.9 668.0,-277.1 679.3,-281.2 690.8,-285.4 702.5,-289.6 714.5,-293.9 726.6,-298.1 739.0,-302.4 751.5,-306.6 764.3,-310.9 777.3,-315.2 790.6,-319.5 804.1,-323.8" fill="none" stroke="#000" stroke-width="3.7"/>
<polygon points="77.4,299.2 78.2,296.9 79.0,294.6 79.9,292.3 80.7,290.1 81.6,287.8 82.5,285.5 83.4,283.1 84.4,280.8 85.3,278.5 86.3,276.2 87.2,273.8 88.2,271.5 89.3,269.1 90.3,266.8 91.3,264.4 92.4,262.0 93.5,259.6 94.6,257.3 95.7,254.9 96.9,252.5 98.0,250.0 99.2,247.6 100.4,245.2 101.7,242.8 102.9,240.3 104.2,237.9 105.5,235.4 106.8,233.0 108.2,230.5 109.5,228.1 110.9,225.6 112.3,223.1 113.8,220.6 115.2,218.1 116.7,215.6 118.3,213.1 119.8,210.6 121.4,208.0 123.0,205.5 124.6,202.9 126.3,200.4 128.0,197.8 129.7,195.3 131.4,192.7 133.2,190.1 135.0,187.6 136.9,185.0 138.7,182.4 140.7,179.8 142.6,177.1 144.6,174.5 146.6,171.9 148.6,169.3 150.7,166.6 152.9,164.0 155.0,161.3 157.2,158.7 159.5,156.0 161.7,153.3 164.1,150.6 166.4,148.0 168.8,145.3 171.3,142.6 173.7,139.8 176.3,137.1 178.9,134.4 181.5,131.7 184.2,128.9 186.9,126.2 189.6,123.4 192.5,120.7 195.3,117.9 198.2,115.1 201.2,112.4 204.2,109.6 207.3,106.8 210.4,104.0 213.6,101.2 216.8,98.4 220.1,95.5 223.5,92.7 226.9,89.9 230.4,87.0 233.9,84.2 237.5,81.3 241.2,78.5 244.9,75.6 248.7,72.7 252.6,69.8 256.5,66.9 260.5,64.0 264.6,61.1 268.7,58.2 273.0,55.3 277.3,52.4 281.6,49.5 286.1,46.5 290.6,43.6 295.2,40.6 299.9,37.6 304.7,34.7 309.5,31.7 314.5,28.7 319.5,25.7 324.6,22.7 329.9,19.7 335.2,16.7 340.6,13.7 346.1,10.7 351.6,7.7 357.3,4.6 363.1,1.6 369.0,-1.5 375.0,-4.5 381.1,-7.6 387.4,-10.7 393.7,-13.8 400.1,-16.8 406.7,-19.9 413.3,-23.0 420.1,-26.2 427.0,-29.3 434.1,-32.4 441.2,-35.5 448.5,-38.7 455.9,-41.8 463.5,-44.9 471.2,-48.1 479.0,-51.3 486.9,-54.4 495.0,-57.6 503.3,-60.8 511.6,-64.0 520.2,-67.2 528.9,-70.4 537.7,-73.6 546.7,-76.8 555.9,-80.1 565.2,-83.3 574.7,-86.5 584.3,-89.8 594.2,-93.0 604.2,-96.3 614.3,-99.6 624.7,-102.8 635.2,-106.1 646.0,-109.4 656.9,-112.7 668.0,-116.0 679.3,-119.3 690.8,-122.6 702.5,-126.0 714.5,-129.3 726.6,-132.6 739.0,-136.0 751.5,-139.3 764.3,-142.7 777.3,-146.1 790.6,-149.4 804.1,-152.8 804.1,-112.7 790.6,-109.3 777.3,-105.9 764.3,-102.6 751.5,-99.2 739.0,-95.8 726.6,-92.5 714.5,-89.2 702.5,-85.8 690.8,-82.5 679.3,-79.2 668.0,-75.9 656.9,-72.6 646.0,-69.3 635.2,-66.0 624.7,-62.7 614.3,-59.4 604.2,-56.2 594.2,-52.9 584.3,-49.6 574.7,-46.4 565.2,-43.2 555.9,-39.9 546.7,-36.7 537.7,-33.5 528.9,-30.3 520.2,-27.1 511.6,-23.9 503.3,-20.7 495.0,-17.5 486.9,-14.3 479.0,-11.1 471.2,-8.0 463.5,-4.8 455.9,-1.7 448.5,1.5 441.2,4.6 434.1,7.7 427.0,10.9 420.1,14.0 413.3,17.1 406.7,20.2 400.1,23.3 393.7,26.4 387.4,29.5 381.1,32.5 375.0,35.6 369.0,38.6 363.1,41.7 357.3,44.7 351.6,47.8 346.1,50.8 340.6,53.8 335.2,56.9 329.9,59.9 324.6,62.9 319.5,65.9 314.5,68.9 309.5,71.8 304.7,74.8 299.9,77.8 295.2,80.7 290.6,83.7 286.1,86.6 281.6,89.6 277.3,92.5 273.0,95.4 268.7,98.4 264.6,101.3 260.5,104.2 256.5,107.1 252.6,110.0 248.7,112.9 244.9,115.7 241.2,118.6 237.5,121.5 233.9,124.3 230.4,127.2 226.9,130.0 223.5,132.8 220.1,135.7 216.8,138.5 213.6,141.3 210.4,144.1 207.3,146.9 204.2,149.7 201.2,152.5 198.2,155.3 195.3,158.1 192.5,160.8 189.6,163.6 186.9,166.3 184.2,169.1 181.5,171.8 178.9,174.5 176.3,177.3 173.7,180.0 171.3,182.7 168.8,185.4 166.4,188.1 164.1,190.8 161.7,193.5 159.5,196.1 157.2,198.8 155.0,201.5 152.9,204.1 150.7,206.8 148.6,209.4 146.6,212.0 144.6,214.7 142.6,217.3 140.7,219.9 138.7,222.5 136.9,225.1 135.0,227.7 133.2,230.3 131.4,232.8 129.7,235.4 128.0,238.0 126.3,240.5 124.6,243.1 123.0,245.6 121.4,248.2 119.8,250.7 118.3,253.2 116.7,255.7 115.2,258.2 113.8,260.7 112.3,263.2 110.9,265.7 109.5,268.2 108.2,270.7 106.8,273.1 105.5,275.6 104.2,278.0 102.9,280.5 101.7,282.9 100.4,285.3 99.2,287.8 98.0,290.2 96.9,292.6 95.7,295.0 94.6,297.4 93.5,299.8 92.4,302.2 91.3,304.5 90.3,306.9 89.3,309.3 88.2,311.6 87.2,314.0 86.3,316.3 85.3,318.6 84.4,321.0 83.4,323.3 82.5,325.6 81.6,327.9 80.7,330.2 79.9,332.5 79.0,334.8 78.2,337.0 77.4,339.3" fill="#BDB76B"/>
<polyline points="77.4,316.2 78.2,313.9 79.0,311.7 79.9,309.4 80.7,307.1 81.6,304.8 82.5,302.5 83.4,300.2 84.4,297.8 85.3,295.5 86.3,293.2 87.2,290.9 88.2,288.5 89.3,286.2 90.3,283.8 91.3,281.4 92.4,279.1 93.5,276.7 94.6,274.3 95.7,271.9 96.9,269.5 98.0,267.1 99.2,264.7 100.4,262.2 101.7,259.8 102.9,257.4 104.2,254.9 105.5,252.5 106.8,250.0 108.2,247.6 109.5,245.1 110.9,242.6 112.3,240.1 113.8,237.6 115.2,235.1 116.7,232.6 118.3,230.1 119.8,227.6 121.4,225.1 123.0,222.5 124.6,220.0 126.3,217.4 128.0,214.9 129.7,212.3 131.4,209.7 133.2,207.2 135.0,204.6 136.9,202.0 138.7,199.4 140.7,196.8 142.6,194.2 144.6,191.6 146.6,188.9 148.6,186.3 150.7,183.7 152.9,181.0 155.0,178.4 157.2,175.7 159.5,173.0 161.7,170.4 164.1,167.7 166.4,165.0 168.8,162.3 171.3,159.6 173.7,156.9 176.3,154.2 178.9,151.4 181.5,148.7 184.2,146.0 186.9,143.2 189.6,140.5 192.5,137.7 195.3,134.9 198.2,132.2 201.2,129.4 204.2,126.6 207.3,123.8 210.4,121.0 213.6,118.2 216.8,115.4 220.1,112.6 223.5,109.7 226.9,106.9 230.4,104.1 233.9,101.2 237.5,98.4 241.2,95.5 244.9,92.6 248.7,89.7 252.6,86.9 256.5,84.0 260.5,81.1 264.6,78.2 268.7,75.3 273.0,72.3 277.3,69.4 281.6,66.5 286.1,63.5 290.6,60.6 295.2,57.6 299.9,54.7 304.7,51.7 309.5,48.7 314.5,45.7 319.5,42.8 324.6,39.8 329.9,36.8 335.2,33.8 340.6,30.7 346.1,27.7 351.6,24.7 357.3,21.6 363.1,18.6 369.0,15.5 375.0,12.5 381.1,9.4 387.4,6.3 393.7,3.3 400.1,0.2 406.7,-2.9 413.3,-6.0 420.1,-9.1 427.0,-12.2 434.1,-15.4 441.2,-18.5 448.5,-21.6 455.9,-24.8 463.5,-27.9 471.2,-31.1 479.0,-34.2 486.9,-37.4 495.0,-40.6 503.3,-43.8 511.6,-47.0 520.2,-50.2 528.9,-53.4 537.7,-56.6 546.7,-59.8 555.9,-63.0 565.2,-66.3 574.7,-69.5 584.3,-72.8 594.2,-76.0 604.2,-79.3 614.3,-82.5 624.7,-85.8 635.2,-89.1 646.0,-92.4 656.9,-95.7 668.0,-99.0 679.3,-102.3 690.8,-105.6 702.5,-108.9 714.5,-112.3 726.6,-115.6 739.0,-119.0 751.5,-122.3 764.3,-125.7 777.3,-129.0 790.6,-132.4 804.1,-135.8" fill="none" stroke="#000" stroke-width="3.7"/>
<g clip-path="url(#cbb)"><path stroke="#0000FF" stroke-width="2.00" fill="none" d="M-371.2 13.2L55.8 408.6M-352.1 13.2L74.9 408.6M-333.0 13.2L94.0 408.6M-313.9 13.2L113.1 408.6M-294.8 13.2L132.2 408.6M-275.7 13.2L151.3 408.6M-256.6 13.2L170.4 408.6M-237.5 13.2L189.5 408.6M-218.4 13.2L208.6 408.6M-199.3 13.2L227.7 408.6M-180.2 13.2L246.8 408.6M-161.1 13.2L265.9 408.6M-142.0 13.2L285.0 408.6M-122.9 13.2L304.1 408.6M-103.8 13.2L323.2 408.6M-84.7 13.2L342.3 408.6M-65.6 13.2L361.4 408.6M-46.5 13.2L380.5 408.6M-27.4 13.2L399.6 408.6M-8.3 13.2L418.7 408.6M10.8 13.2L437.8 408.6M29.9 13.2L456.9 408.6M49.0 13.2L476.0 408.6M68.1 13.2L495.1 408.6M87.2 13.2L514.2 408.6M106.3 13.2L533.3 408.6M125.4 13.2L552.4 408.6M144.5 13.2L571.5 408.6M163.6 13.2L590.6 408.6M182.7 13.2L609.7 408.6M201.8 13.2L628.8 408.6M220.9 13.2L647.9 408.6M240.0 13.2L667.0 408.6M259.1 13.2L686.1 408.6M278.2 13.2L705.2 408.6M297.3 13.2L724.3 408.6M316.4 13.2L743.4 408.6M335.5 13.2L762.5 408.6M354.6 13.2L781.6 408.6M373.7 13.2L800.7 408.6M392.8 13.2L819.8 408.6M411.9 13.2L838.9 408.6M431.0 13.2L858.0 408.6M450.1 13.2L877.1 408.6M469.2 13.2L896.2 408.6M488.3 13.2L915.3 408.6M507.4 13.2L934.4 408.6M526.5 13.2L953.5 408.6M545.6 13.2L972.6 408.6M564.7 13.2L991.7 408.6M583.8 13.2L1010.8 408.6M602.9 13.2L1029.9 408.6M622.0 13.2L1049.0 408.6M641.1 13.2L1068.1 408.6M660.2 13.2L1087.2 408.6M679.3 13.2L1106.3 408.6M698.4 13.2L1125.4 408.6M717.5 13.2L1144.5 408.6M736.6 13.2L1163.6 408.6M755.7 13.2L1182.7 408.6M774.8 13.2L1201.8 408.6M793.9 13.2L1220.9 408.6M813.0 13.2L1240.0 408.6M832.1 13.2L1259.1 408.6"/></g>
<polyline points="77.4,368.6 78.2,366.2 79.0,363.7 79.9,361.3 80.7,358.8 81.6,356.4 82.5,353.9 83.4,351.5 84.4,349.0 85.3,346.6 86.3,344.1 87.2,341.6 88.2,339.2 89.3,336.7 90.3,334.2 91.3,331.7 92.4,329.3 93.5,326.8 94.6,324.3 95.7,321.8 96.9,319.3 98.0,316.8 99.2,314.3 100.4,311.8 101.7,309.3 102.9,306.8 104.2,304.3 105.5,301.8 106.8,299.2 108.2,296.7 109.5,294.2 110.9,291.7 112.3,289.1 113.8,286.6 115.2,284.1 116.7,281.5 118.3,279.0 119.8,276.4 121.4,273.9 123.0,271.3 124.6,268.8 126.3,266.2 128.0,263.6 129.7,261.1 131.4,258.5 133.2,255.9 135.0,253.4 136.9,250.8 138.7,248.2 140.7,245.6 142.6,243.0 144.6,240.4 146.6,237.8 148.6,235.2 150.7,232.6 152.9,230.0 155.0,227.4 157.2,224.8 159.5,222.2 161.7,219.6 164.1,217.0 166.4,214.4 168.8,211.7 171.3,209.1 173.7,206.5 176.3,203.8 178.9,201.2 181.5,198.6 184.2,195.9 186.9,193.3 189.6,190.6 192.5,188.0 195.3,185.3 198.2,182.6 201.2,180.0 204.2,177.3 207.3,174.6 210.4,172.0 213.6,169.3 216.8,166.6 220.1,163.9 223.5,161.3 226.9,158.6 230.4,155.9 233.9,153.2 237.5,150.5 241.2,147.8 244.9,145.1 248.7,142.4 252.6,139.7 256.5,137.0 260.5,134.2 264.6,131.5 268.7,128.8 273.0,126.1 277.3,123.3 281.6,120.6 286.1,117.9 290.6,115.1 295.2,112.4 299.9,109.7 304.7,106.9 309.5,104.2 314.5,101.4 319.5,98.7 324.6,95.9 329.9,93.1 335.2,90.4 340.6,87.6 346.1,84.8 351.6,82.1 357.3,79.3 363.1,76.5 369.0,73.7 375.0,70.9 381.1,68.1 387.4,65.3 393.7,62.5 400.1,59.7 406.7,56.9 413.3,54.1 420.1,51.3 427.0,48.5 434.1,45.7 441.2,42.9 448.5,40.1 455.9,37.2 463.5,34.4 471.2,31.6 479.0,28.7 486.9,25.9 495.0,23.1 503.3,20.2 511.6,17.4 520.2,14.5 528.9,11.7 537.7,8.8 546.7,6.0 555.9,3.1 565.2,0.2 574.7,-2.6 584.3,-5.5 594.2,-8.4 604.2,-11.3 614.3,-14.1 624.7,-17.0 635.2,-19.9 646.0,-22.8 656.9,-25.7 668.0,-28.6 679.3,-31.5 690.8,-34.4 702.5,-37.3 714.5,-40.2 726.6,-43.1 739.0,-46.0 751.5,-49.0 764.3,-51.9 777.3,-54.8 790.6,-57.7 804.1,-60.7" fill="none" stroke="#0000FF" stroke-width="3.8"/>
<polyline points="77.4,408.6 78.2,406.2 79.0,403.9 79.9,401.5 80.7,399.1 81.6,396.8 82.5,394.4 83.4,392.0 84.4,389.6 85.3,387.2 86.3,384.8 87.2,382.4 88.2,380.0 89.3,377.6 90.3,375.2 91.3,372.7 92.4,370.3 93.5,367.9 94.6,365.4 95.7,363.0 96.9,360.6 98.0,358.1 99.2,355.6 100.4,353.2 101.7,350.7 102.9,348.3 104.2,345.8 105.5,343.3 106.8,340.8 108.2,338.3 109.5,335.8 110.9,333.3 112.3,330.8 113.8,328.3 115.2,325.8 116.7,323.3 118.3,320.8 119.8,318.3 121.4,315.7 123.0,313.2 124.6,310.6 126.3,308.1 128.0,305.6 129.7,303.0 131.4,300.4 133.2,297.9 135.0,295.3 136.9,292.7 138.7,290.2 140.7,287.6 142.6,285.0 144.6,282.4 146.6,279.8 148.6,277.2 150.7,274.6 152.9,272.0 155.0,269.4 157.2,266.8 159.5,264.1 161.7,261.5 164.1,258.9 166.4,256.2 168.8,253.6 171.3,251.0 173.7,248.3 176.3,245.7 178.9,243.0 181.5,240.3 184.2,237.7 186.9,235.0 189.6,232.3 192.5,229.6 195.3,226.9 198.2,224.2 201.2,221.5 204.2,218.8 207.3,216.1 210.4,213.4 213.6,210.7 216.8,208.0 220.1,205.3 223.5,202.5 226.9,199.8 230.4,197.1 233.9,194.3 237.5,191.6 241.2,188.8 244.9,186.1 248.7,183.3 252.6,180.5 256.5,177.8 260.5,175.0 264.6,172.2 268.7,169.4 273.0,166.6 277.3,163.8 281.6,161.0 286.1,158.2 290.6,155.4 295.2,152.6 299.9,149.8 304.7,147.0 309.5,144.1 314.5,141.3 319.5,138.5 324.6,135.6 329.9,132.8 335.2,129.9 340.6,127.1 346.1,124.2 351.6,121.3 357.3,118.5 363.1,115.6 369.0,112.7 375.0,109.8 381.1,107.0 387.4,104.1 393.7,101.2 400.1,98.3 406.7,95.4 413.3,92.4 420.1,89.5 427.0,86.6 434.1,83.7 441.2,80.8 448.5,77.8 455.9,74.9 463.5,71.9 471.2,69.0 479.0,66.0 486.9,63.1 495.0,60.1 503.3,57.2 511.6,54.2 520.2,51.2 528.9,48.2 537.7,45.2 546.7,42.3 555.9,39.3 565.2,36.3 574.7,33.3 584.3,30.2 594.2,27.2 604.2,24.2 614.3,21.2 624.7,18.2 635.2,15.1 646.0,12.1 656.9,9.1 668.0,6.0 679.3,3.0 690.8,-0.1 702.5,-3.2 714.5,-6.2 726.6,-9.3 739.0,-12.4 751.5,-15.4 764.3,-18.5 777.3,-21.6 790.6,-24.7 804.1,-27.8" fill="none" stroke="#0000FF" stroke-width="3.8"/>
<polyline points="77.4,383.9 78.2,381.5 79.0,379.2 79.9,376.8 80.7,374.4 81.6,372.0 82.5,369.7 83.4,367.3 84.4,364.9 85.3,362.5 86.3,360.1 87.2,357.7 88.2,355.2 89.3,352.8 90.3,350.4 91.3,348.0 92.4,345.6 93.5,343.1 94.6,340.7 95.7,338.3 96.9,335.8 98.0,333.4 99.2,330.9 100.4,328.4 101.7,326.0 102.9,323.5 104.2,321.0 105.5,318.6 106.8,316.1 108.2,313.6 109.5,311.1 110.9,308.6 112.3,306.1 113.8,303.6 115.2,301.1 116.7,298.6 118.3,296.1 119.8,293.6 121.4,291.1 123.0,288.5 124.6,286.0 126.3,283.5 128.0,280.9 129.7,278.4 131.4,275.8 133.2,273.3 135.0,270.7 136.9,268.2 138.7,265.6 140.7,263.0 142.6,260.5 144.6,257.9 146.6,255.3 148.6,252.7 150.7,250.1 152.9,247.5 155.0,244.9 157.2,242.3 159.5,239.7 161.7,237.1 164.1,234.5 166.4,231.9 168.8,229.3 171.3,226.6 173.7,224.0 176.3,221.4 178.9,218.7 181.5,216.1 184.2,213.4 186.9,210.8 189.6,208.1 192.5,205.5 195.3,202.8 198.2,200.1 201.2,197.5 204.2,194.8 207.3,192.1 210.4,189.4 213.6,186.7 216.8,184.0 220.1,181.3 223.5,178.6 226.9,175.9 230.4,173.2 233.9,170.5 237.5,167.8 241.2,165.0 244.9,162.3 248.7,159.6 252.6,156.8 256.5,154.1 260.5,151.3 264.6,148.6 268.7,145.8 273.0,143.1 277.3,140.3 281.6,137.5 286.1,134.8 290.6,132.0 295.2,129.2 299.9,126.4 304.7,123.6 309.5,120.8 314.5,118.1 319.5,115.2 324.6,112.4 329.9,109.6 335.2,106.8 340.6,104.0 346.1,101.2 351.6,98.3 357.3,95.5 363.1,92.7 369.0,89.8 375.0,87.0 381.1,84.1 387.4,81.3 393.7,78.4 400.1,75.6 406.7,72.7 413.3,69.8 420.1,67.0 427.0,64.1 434.1,61.2 441.2,58.3 448.5,55.4 455.9,52.5 463.5,49.6 471.2,46.7 479.0,43.8 486.9,40.9 495.0,38.0 503.3,35.1 511.6,32.2 520.2,29.2 528.9,26.3 537.7,23.4 546.7,20.4 555.9,17.5 565.2,14.5 574.7,11.6 584.3,8.6 594.2,5.6 604.2,2.7 614.3,-0.3 624.7,-3.3 635.2,-6.3 646.0,-9.2 656.9,-12.2 668.0,-15.2 679.3,-18.2 690.8,-21.2 702.5,-24.2 714.5,-27.2 726.6,-30.2 739.0,-33.3 751.5,-36.3 764.3,-39.3 777.3,-42.3 790.6,-45.4 804.1,-48.4" fill="none" stroke="#000" stroke-width="3.7"/>
<g clip-path="url(#cbm)"><path stroke="#FF00FF" stroke-width="1.90" fill="none" d="M42.7 13.2L-384.2 453.3M61.0 13.2L-365.9 453.3M79.3 13.2L-347.6 453.3M97.6 13.2L-329.3 453.3M115.9 13.2L-311.0 453.3M134.2 13.2L-292.7 453.3M152.5 13.2L-274.4 453.3M170.8 13.2L-256.1 453.3M189.1 13.2L-237.8 453.3M207.4 13.2L-219.5 453.3M225.7 13.2L-201.2 453.3M244.0 13.2L-182.9 453.3M262.3 13.2L-164.6 453.3M280.6 13.2L-146.3 453.3M298.9 13.2L-128.0 453.3M317.2 13.2L-109.7 453.3M335.5 13.2L-91.4 453.3M353.8 13.2L-73.1 453.3M372.1 13.2L-54.8 453.3M390.4 13.2L-36.5 453.3M408.7 13.2L-18.2 453.3M427.0 13.2L0.1 453.3M445.3 13.2L18.4 453.3M463.6 13.2L36.7 453.3M481.9 13.2L55.0 453.3M500.2 13.2L73.3 453.3M518.5 13.2L91.6 453.3M536.8 13.2L109.9 453.3M555.1 13.2L128.2 453.3M573.4 13.2L146.5 453.3M591.7 13.2L164.8 453.3M610.0 13.2L183.1 453.3M628.3 13.2L201.4 453.3M646.6 13.2L219.7 453.3M664.9 13.2L238.0 453.3M683.2 13.2L256.3 453.3M701.5 13.2L274.6 453.3M719.8 13.2L292.9 453.3M738.1 13.2L311.2 453.3M756.4 13.2L329.5 453.3M774.7 13.2L347.8 453.3M793.0 13.2L366.1 453.3M811.3 13.2L384.4 453.3M829.6 13.2L402.7 453.3M847.9 13.2L421.0 453.3M866.2 13.2L439.3 453.3M884.5 13.2L457.6 453.3M902.8 13.2L475.9 453.3M921.1 13.2L494.2 453.3M939.4 13.2L512.5 453.3M957.7 13.2L530.8 453.3M976.0 13.2L549.1 453.3M994.3 13.2L567.4 453.3M1012.6 13.2L585.7 453.3M1030.9 13.2L604.0 453.3M1049.2 13.2L622.3 453.3M1067.5 13.2L640.6 453.3M1085.8 13.2L658.9 453.3M1104.1 13.2L677.2 453.3M1122.4 13.2L695.5 453.3M1140.7 13.2L713.8 453.3M1159.0 13.2L732.1 453.3M1177.3 13.2L750.4 453.3M1195.6 13.2L768.7 453.3M1213.9 13.2L787.0 453.3M1232.2 13.2L805.3 453.3M1250.5 13.2L823.6 453.3"/></g>
<polyline points="77.4,415.6 78.2,413.2 79.0,410.8 79.9,408.4 80.7,406.0 81.6,403.6 82.5,401.2 83.4,398.8 84.4,396.3 85.3,393.9 86.3,391.5 87.2,389.1 88.2,386.6 89.3,384.2 90.3,381.8 91.3,379.3 92.4,376.9 93.5,374.4 94.6,372.0 95.7,369.5 96.9,367.1 98.0,364.6 99.2,362.2 100.4,359.7 101.7,357.2 102.9,354.8 104.2,352.3 105.5,349.8 106.8,347.3 108.2,344.8 109.5,342.3 110.9,339.9 112.3,337.4 113.8,334.9 115.2,332.4 116.7,329.9 118.3,327.3 119.8,324.8 121.4,322.3 123.0,319.8 124.6,317.3 126.3,314.8 128.0,312.2 129.7,309.7 131.4,307.2 133.2,304.6 135.0,302.1 136.9,299.5 138.7,297.0 140.7,294.4 142.6,291.9 144.6,289.3 146.6,286.8 148.6,284.2 150.7,281.6 152.9,279.1 155.0,276.5 157.2,273.9 159.5,271.3 161.7,268.7 164.1,266.2 166.4,263.6 168.8,261.0 171.3,258.4 173.7,255.8 176.3,253.2 178.9,250.6 181.5,248.0 184.2,245.3 186.9,242.7 189.6,240.1 192.5,237.5 195.3,234.9 198.2,232.2 201.2,229.6 204.2,227.0 207.3,224.3 210.4,221.7 213.6,219.0 216.8,216.4 220.1,213.7 223.5,211.1 226.9,208.4 230.4,205.7 233.9,203.1 237.5,200.4 241.2,197.7 244.9,195.1 248.7,192.4 252.6,189.7 256.5,187.0 260.5,184.3 264.6,181.6 268.7,178.9 273.0,176.2 277.3,173.5 281.6,170.8 286.1,168.1 290.6,165.4 295.2,162.7 299.9,160.0 304.7,157.3 309.5,154.5 314.5,151.8 319.5,149.1 324.6,146.3 329.9,143.6 335.2,140.9 340.6,138.1 346.1,135.4 351.6,132.6 357.3,129.9 363.1,127.1 369.0,124.3 375.0,121.6 381.1,118.8 387.4,116.0 393.7,113.3 400.1,110.5 406.7,107.7 413.3,104.9 420.1,102.1 427.0,99.3 434.1,96.6 441.2,93.8 448.5,91.0 455.9,88.2 463.5,85.3 471.2,82.5 479.0,79.7 486.9,76.9 495.0,74.1 503.3,71.3 511.6,68.4 520.2,65.6 528.9,62.8 537.7,59.9 546.7,57.1 555.9,54.3 565.2,51.4 574.7,48.6 584.3,45.7 594.2,42.8 604.2,40.0 614.3,37.1 624.7,34.3 635.2,31.4 646.0,28.5 656.9,25.6 668.0,22.8 679.3,19.9 690.8,17.0 702.5,14.1 714.5,11.2 726.6,8.3 739.0,5.4 751.5,2.5 764.3,-0.4 777.3,-3.3 790.6,-6.2 804.1,-9.1" fill="none" stroke="#FF00FF" stroke-width="3.8"/>
<polyline points="77.4,453.3 78.2,450.8 79.0,448.4 79.9,445.9 80.7,443.5 81.6,441.0 82.5,438.5 83.4,436.1 84.4,433.6 85.3,431.1 86.3,428.7 87.2,426.2 88.2,423.7 89.3,421.3 90.3,418.8 91.3,416.3 92.4,413.8 93.5,411.3 94.6,408.8 95.7,406.3 96.9,403.8 98.0,401.3 99.2,398.8 100.4,396.3 101.7,393.8 102.9,391.3 104.2,388.8 105.5,386.3 106.8,383.8 108.2,381.3 109.5,378.7 110.9,376.2 112.3,373.7 113.8,371.2 115.2,368.6 116.7,366.1 118.3,363.6 119.8,361.0 121.4,358.5 123.0,355.9 124.6,353.4 126.3,350.8 128.0,348.3 129.7,345.7 131.4,343.2 133.2,340.6 135.0,338.1 136.9,335.5 138.7,332.9 140.7,330.4 142.6,327.8 144.6,325.2 146.6,322.6 148.6,320.1 150.7,317.5 152.9,314.9 155.0,312.3 157.2,309.7 159.5,307.1 161.7,304.5 164.1,301.9 166.4,299.3 168.8,296.7 171.3,294.1 173.7,291.5 176.3,288.9 178.9,286.3 181.5,283.7 184.2,281.0 186.9,278.4 189.6,275.8 192.5,273.2 195.3,270.5 198.2,267.9 201.2,265.3 204.2,262.6 207.3,260.0 210.4,257.4 213.6,254.7 216.8,252.1 220.1,249.4 223.5,246.8 226.9,244.1 230.4,241.5 233.9,238.8 237.5,236.1 241.2,233.5 244.9,230.8 248.7,228.1 252.6,225.5 256.5,222.8 260.5,220.1 264.6,217.4 268.7,214.7 273.0,212.1 277.3,209.4 281.6,206.7 286.1,204.0 290.6,201.3 295.2,198.6 299.9,195.9 304.7,193.2 309.5,190.5 314.5,187.8 319.5,185.1 324.6,182.4 329.9,179.6 335.2,176.9 340.6,174.2 346.1,171.5 351.6,168.8 357.3,166.0 363.1,163.3 369.0,160.6 375.0,157.8 381.1,155.1 387.4,152.3 393.7,149.6 400.1,146.8 406.7,144.1 413.3,141.3 420.1,138.6 427.0,135.8 434.1,133.1 441.2,130.3 448.5,127.5 455.9,124.8 463.5,122.0 471.2,119.2 479.0,116.5 486.9,113.7 495.0,110.9 503.3,108.1 511.6,105.3 520.2,102.5 528.9,99.8 537.7,97.0 546.7,94.2 555.9,91.4 565.2,88.6 574.7,85.8 584.3,83.0 594.2,80.2 604.2,77.3 614.3,74.5 624.7,71.7 635.2,68.9 646.0,66.1 656.9,63.3 668.0,60.4 679.3,57.6 690.8,54.8 702.5,51.9 714.5,49.1 726.6,46.3 739.0,43.4 751.5,40.6 764.3,37.7 777.3,34.9 790.6,32.0 804.1,29.2" fill="none" stroke="#FF00FF" stroke-width="3.8"/>
<polyline points="77.4,433.9 78.2,431.5 79.0,429.1 79.9,426.7 80.7,424.3 81.6,421.9 82.5,419.5 83.4,417.1 84.4,414.7 85.3,412.3 86.3,409.9 87.2,407.4 88.2,405.0 89.3,402.6 90.3,400.2 91.3,397.7 92.4,395.3 93.5,392.8 94.6,390.4 95.7,387.9 96.9,385.5 98.0,383.0 99.2,380.6 100.4,378.1 101.7,375.6 102.9,373.1 104.2,370.7 105.5,368.2 106.8,365.7 108.2,363.2 109.5,360.7 110.9,358.2 112.3,355.7 113.8,353.2 115.2,350.7 116.7,348.2 118.3,345.7 119.8,343.2 121.4,340.7 123.0,338.1 124.6,335.6 126.3,333.1 128.0,330.6 129.7,328.0 131.4,325.5 133.2,322.9 135.0,320.4 136.9,317.8 138.7,315.3 140.7,312.7 142.6,310.1 144.6,307.6 146.6,305.0 148.6,302.4 150.7,299.9 152.9,297.3 155.0,294.7 157.2,292.1 159.5,289.5 161.7,286.9 164.1,284.3 166.4,281.7 168.8,279.1 171.3,276.5 173.7,273.9 176.3,271.3 178.9,268.6 181.5,266.0 184.2,263.4 186.9,260.8 189.6,258.1 192.5,255.5 195.3,252.8 198.2,250.2 201.2,247.5 204.2,244.9 207.3,242.2 210.4,239.6 213.6,236.9 216.8,234.2 220.1,231.6 223.5,228.9 226.9,226.2 230.4,223.5 233.9,220.8 237.5,218.2 241.2,215.5 244.9,212.8 248.7,210.1 252.6,207.4 256.5,204.7 260.5,201.9 264.6,199.2 268.7,196.5 273.0,193.8 277.3,191.1 281.6,188.3 286.1,185.6 290.6,182.9 295.2,180.1 299.9,177.4 304.7,174.6 309.5,171.9 314.5,169.1 319.5,166.4 324.6,163.6 329.9,160.8 335.2,158.1 340.6,155.3 346.1,152.5 351.6,149.7 357.3,147.0 363.1,144.2 369.0,141.4 375.0,138.6 381.1,135.8 387.4,133.0 393.7,130.2 400.1,127.4 406.7,124.6 413.3,121.7 420.1,118.9 427.0,116.1 434.1,113.3 441.2,110.4 448.5,107.6 455.9,104.8 463.5,101.9 471.2,99.1 479.0,96.2 486.9,93.4 495.0,90.5 503.3,87.7 511.6,84.8 520.2,81.9 528.9,79.1 537.7,76.2 546.7,73.3 555.9,70.4 565.2,67.6 574.7,64.7 584.3,61.8 594.2,58.9 604.2,56.0 614.3,53.1 624.7,50.2 635.2,47.3 646.0,44.3 656.9,41.4 668.0,38.5 679.3,35.6 690.8,32.7 702.5,29.7 714.5,26.8 726.6,23.9 739.0,20.9 751.5,18.0 764.3,15.0 777.3,12.1 790.6,9.1 804.1,6.1" fill="none" stroke="#000" stroke-width="3.7"/>
<g clip-path="url(#cbg)"><path stroke="#006400" stroke-width="2.00" fill="none" d="M-151.6 30.1L65.0 490.9M-142.4 30.1L74.2 490.9M-133.2 30.1L83.4 490.9M-124.0 30.1L92.6 490.9M-114.8 30.1L101.8 490.9M-105.6 30.1L111.0 490.9M-96.4 30.1L120.2 490.9M-87.2 30.1L129.4 490.9M-78.0 30.1L138.6 490.9M-68.8 30.1L147.8 490.9M-59.6 30.1L157.0 490.9M-50.4 30.1L166.2 490.9M-41.2 30.1L175.4 490.9M-32.0 30.1L184.6 490.9M-22.8 30.1L193.8 490.9M-13.6 30.1L203.0 490.9M-4.4 30.1L212.2 490.9M4.8 30.1L221.4 490.9M14.0 30.1L230.6 490.9M23.2 30.1L239.8 490.9M32.4 30.1L249.0 490.9M41.6 30.1L258.2 490.9M50.8 30.1L267.4 490.9M60.0 30.1L276.6 490.9M69.2 30.1L285.8 490.9M78.4 30.1L295.0 490.9M87.6 30.1L304.2 490.9M96.8 30.1L313.4 490.9M106.0 30.1L322.6 490.9M115.2 30.1L331.8 490.9M124.4 30.1L341.0 490.9M133.6 30.1L350.2 490.9M142.8 30.1L359.4 490.9M152.0 30.1L368.6 490.9M161.2 30.1L377.8 490.9M170.4 30.1L387.0 490.9M179.6 30.1L396.2 490.9M188.8 30.1L405.4 490.9M198.0 30.1L414.6 490.9M207.2 30.1L423.8 490.9M216.4 30.1L433.0 490.9M225.6 30.1L442.2 490.9M234.8 30.1L451.4 490.9M244.0 30.1L460.6 490.9M253.2 30.1L469.8 490.9M262.4 30.1L479.0 490.9M271.6 30.1L488.2 490.9M280.8 30.1L497.4 490.9M290.0 30.1L506.6 490.9M299.2 30.1L515.8 490.9M308.4 30.1L525.0 490.9M317.6 30.1L534.2 490.9M326.8 30.1L543.4 490.9M336.0 30.1L552.6 490.9M345.2 30.1L561.8 490.9M354.4 30.1L571.0 490.9M363.6 30.1L580.2 490.9M372.8 30.1L589.4 490.9M382.0 30.1L598.6 490.9M391.2 30.1L607.8 490.9M400.4 30.1L617.0 490.9M409.6 30.1L626.2 490.9M418.8 30.1L635.4 490.9M428.0 30.1L644.6 490.9M437.2 30.1L653.8 490.9M446.4 30.1L663.0 490.9M455.6 30.1L672.2 490.9M464.8 30.1L681.4 490.9M474.0 30.1L690.6 490.9M483.2 30.1L699.8 490.9M492.4 30.1L709.0 490.9M501.6 30.1L718.2 490.9M510.8 30.1L727.4 490.9M520.0 30.1L736.6 490.9M529.2 30.1L745.8 490.9M538.4 30.1L755.0 490.9M547.6 30.1L764.2 490.9M556.8 30.1L773.4 490.9M566.0 30.1L782.6 490.9M575.2 30.1L791.8 490.9M584.4 30.1L801.0 490.9M593.6 30.1L810.2 490.9M602.8 30.1L819.4 490.9M612.0 30.1L828.6 490.9M621.2 30.1L837.8 490.9M630.4 30.1L847.0 490.9M639.6 30.1L856.2 490.9M648.8 30.1L865.4 490.9M658.0 30.1L874.6 490.9M667.2 30.1L883.8 490.9M676.4 30.1L893.0 490.9M685.6 30.1L902.2 490.9M694.8 30.1L911.4 490.9M704.0 30.1L920.6 490.9M713.2 30.1L929.8 490.9M722.4 30.1L939.0 490.9M731.6 30.1L948.2 490.9M740.8 30.1L957.4 490.9M750.0 30.1L966.6 490.9M759.2 30.1L975.8 490.9M768.4 30.1L985.0 490.9M777.6 30.1L994.2 490.9M786.8 30.1L1003.4 490.9M796.0 30.1L1012.6 490.9M805.2 30.1L1021.8 490.9M814.4 30.1L1031.0 490.9"/></g>
<polyline points="77.4,449.9 78.2,447.6 79.0,445.3 79.9,443.0 80.7,440.6 81.6,438.3 82.5,436.0 83.4,433.7 84.4,431.4 85.3,429.0 86.3,426.7 87.2,424.3 88.2,422.0 89.3,419.6 90.3,417.3 91.3,414.9 92.4,412.6 93.5,410.2 94.6,407.8 95.7,405.5 96.9,403.1 98.0,400.7 99.2,398.3 100.4,395.9 101.7,393.5 102.9,391.1 104.2,388.7 105.5,386.3 106.8,383.9 108.2,381.5 109.5,379.1 110.9,376.6 112.3,374.2 113.8,371.8 115.2,369.3 116.7,366.9 118.3,364.5 119.8,362.0 121.4,359.6 123.0,357.1 124.6,354.7 126.3,352.2 128.0,349.7 129.7,347.2 131.4,344.8 133.2,342.3 135.0,339.8 136.9,337.3 138.7,334.8 140.7,332.3 142.6,329.8 144.6,327.3 146.6,324.8 148.6,322.3 150.7,319.8 152.9,317.3 155.0,314.7 157.2,312.2 159.5,309.7 161.7,307.1 164.1,304.6 166.4,302.1 168.8,299.5 171.3,297.0 173.7,294.4 176.3,291.8 178.9,289.3 181.5,286.7 184.2,284.1 186.9,281.6 189.6,279.0 192.5,276.4 195.3,273.8 198.2,271.2 201.2,268.6 204.2,266.0 207.3,263.4 210.4,260.8 213.6,258.2 216.8,255.6 220.1,252.9 223.5,250.3 226.9,247.7 230.4,245.0 233.9,242.4 237.5,239.8 241.2,237.1 244.9,234.5 248.7,231.8 252.6,229.2 256.5,226.5 260.5,223.8 264.6,221.2 268.7,218.5 273.0,215.8 277.3,213.1 281.6,210.4 286.1,207.7 290.6,205.1 295.2,202.4 299.9,199.6 304.7,196.9 309.5,194.2 314.5,191.5 319.5,188.8 324.6,186.1 329.9,183.3 335.2,180.6 340.6,177.9 346.1,175.1 351.6,172.4 357.3,169.7 363.1,166.9 369.0,164.1 375.0,161.4 381.1,158.6 387.4,155.9 393.7,153.1 400.1,150.3 406.7,147.5 413.3,144.7 420.1,142.0 427.0,139.2 434.1,136.4 441.2,133.6 448.5,130.8 455.9,128.0 463.5,125.1 471.2,122.3 479.0,119.5 486.9,116.7 495.0,113.8 503.3,111.0 511.6,108.2 520.2,105.3 528.9,102.5 537.7,99.6 546.7,96.8 555.9,93.9 565.2,91.1 574.7,88.2 584.3,85.3 594.2,82.5 604.2,79.6 614.3,76.7 624.7,73.8 635.2,70.9 646.0,68.0 656.9,65.1 668.0,62.2 679.3,59.3 690.8,56.4 702.5,53.5 714.5,50.6 726.6,47.7 739.0,44.7 751.5,41.8 764.3,38.9 777.3,35.9 790.6,33.0 804.1,30.1" fill="none" stroke="#006400" stroke-width="3.8"/>
<polyline points="77.4,490.9 78.2,488.6 79.0,486.2 79.9,483.8 80.7,481.4 81.6,479.0 82.5,476.6 83.4,474.2 84.4,471.8 85.3,469.4 86.3,467.0 87.2,464.6 88.2,462.2 89.3,459.8 90.3,457.4 91.3,455.0 92.4,452.5 93.5,450.1 94.6,447.7 95.7,445.2 96.9,442.8 98.0,440.4 99.2,437.9 100.4,435.5 101.7,433.0 102.9,430.6 104.2,428.1 105.5,425.6 106.8,423.2 108.2,420.7 109.5,418.2 110.9,415.8 112.3,413.3 113.8,410.8 115.2,408.3 116.7,405.8 118.3,403.4 119.8,400.9 121.4,398.4 123.0,395.9 124.6,393.4 126.3,390.9 128.0,388.3 129.7,385.8 131.4,383.3 133.2,380.8 135.0,378.3 136.9,375.7 138.7,373.2 140.7,370.7 142.6,368.1 144.6,365.6 146.6,363.1 148.6,360.5 150.7,358.0 152.9,355.4 155.0,352.9 157.2,350.3 159.5,347.7 161.7,345.2 164.1,342.6 166.4,340.0 168.8,337.5 171.3,334.9 173.7,332.3 176.3,329.7 178.9,327.1 181.5,324.5 184.2,321.9 186.9,319.3 189.6,316.7 192.5,314.1 195.3,311.5 198.2,308.9 201.2,306.3 204.2,303.7 207.3,301.1 210.4,298.4 213.6,295.8 216.8,293.2 220.1,290.6 223.5,287.9 226.9,285.3 230.4,282.6 233.9,280.0 237.5,277.3 241.2,274.7 244.9,272.0 248.7,269.4 252.6,266.7 256.5,264.0 260.5,261.4 264.6,258.7 268.7,256.0 273.0,253.3 277.3,250.6 281.6,248.0 286.1,245.3 290.6,242.6 295.2,239.9 299.9,237.2 304.7,234.5 309.5,231.8 314.5,229.1 319.5,226.4 324.6,223.6 329.9,220.9 335.2,218.2 340.6,215.5 346.1,212.7 351.6,210.0 357.3,207.3 363.1,204.5 369.0,201.8 375.0,199.0 381.1,196.3 387.4,193.5 393.7,190.8 400.1,188.0 406.7,185.3 413.3,182.5 420.1,179.7 427.0,177.0 434.1,174.2 441.2,171.4 448.5,168.6 455.9,165.8 463.5,163.1 471.2,160.3 479.0,157.5 486.9,154.7 495.0,151.9 503.3,149.1 511.6,146.3 520.2,143.5 528.9,140.6 537.7,137.8 546.7,135.0 555.9,132.2 565.2,129.3 574.7,126.5 584.3,123.7 594.2,120.8 604.2,118.0 614.3,115.2 624.7,112.3 635.2,109.5 646.0,106.6 656.9,103.8 668.0,100.9 679.3,98.0 690.8,95.2 702.5,92.3 714.5,89.4 726.6,86.5 739.0,83.7 751.5,80.8 764.3,77.9 777.3,75.0 790.6,72.1 804.1,69.2" fill="none" stroke="#006400" stroke-width="3.8"/>
<polyline points="77.4,471.5 78.2,469.0 79.0,466.6 79.9,464.2 80.7,461.8 81.6,459.3 82.5,456.9 83.4,454.5 84.4,452.0 85.3,449.6 86.3,447.2 87.2,444.7 88.2,442.3 89.3,439.8 90.3,437.4 91.3,434.9 92.4,432.4 93.5,430.0 94.6,427.5 95.7,425.0 96.9,422.6 98.0,420.1 99.2,417.6 100.4,415.1 101.7,412.6 102.9,410.2 104.2,407.7 105.5,405.2 106.8,402.7 108.2,400.2 109.5,397.7 110.9,395.2 112.3,392.7 113.8,390.2 115.2,387.6 116.7,385.1 118.3,382.6 119.8,380.1 121.4,377.6 123.0,375.0 124.6,372.5 126.3,370.0 128.0,367.4 129.7,364.9 131.4,362.4 133.2,359.8 135.0,357.3 136.9,354.7 138.7,352.2 140.7,349.6 142.6,347.0 144.6,344.5 146.6,341.9 148.6,339.3 150.7,336.8 152.9,334.2 155.0,331.6 157.2,329.0 159.5,326.5 161.7,323.9 164.1,321.3 166.4,318.7 168.8,316.1 171.3,313.5 173.7,310.9 176.3,308.3 178.9,305.7 181.5,303.1 184.2,300.5 186.9,297.9 189.6,295.2 192.5,292.6 195.3,290.0 198.2,287.4 201.2,284.7 204.2,282.1 207.3,279.5 210.4,276.8 213.6,274.2 216.8,271.5 220.1,268.9 223.5,266.2 226.9,263.6 230.4,260.9 233.9,258.3 237.5,255.6 241.2,253.0 244.9,250.3 248.7,247.6 252.6,244.9 256.5,242.3 260.5,239.6 264.6,236.9 268.7,234.2 273.0,231.5 277.3,228.8 281.6,226.1 286.1,223.5 290.6,220.8 295.2,218.1 299.9,215.3 304.7,212.6 309.5,209.9 314.5,207.2 319.5,204.5 324.6,201.8 329.9,199.1 335.2,196.3 340.6,193.6 346.1,190.9 351.6,188.1 357.3,185.4 363.1,182.7 369.0,179.9 375.0,177.2 381.1,174.4 387.4,171.7 393.7,168.9 400.1,166.2 406.7,163.4 413.3,160.6 420.1,157.9 427.0,155.1 434.1,152.3 441.2,149.5 448.5,146.8 455.9,144.0 463.5,141.2 471.2,138.4 479.0,135.6 486.9,132.8 495.0,130.0 503.3,127.2 511.6,124.4 520.2,121.6 528.9,118.8 537.7,116.0 546.7,113.2 555.9,110.4 565.2,107.6 574.7,104.8 584.3,101.9 594.2,99.1 604.2,96.3 614.3,93.4 624.7,90.6 635.2,87.8 646.0,84.9 656.9,82.1 668.0,79.2 679.3,76.4 690.8,73.5 702.5,70.7 714.5,67.8 726.6,64.9 739.0,62.1 751.5,59.2 764.3,56.3 777.3,53.5 790.6,50.6 804.1,47.7" fill="none" stroke="#000" stroke-width="3.7"/>
<clipPath id="cr"><rect x="79.3" y="16.2" width="721.9" height="32.5"/></clipPath>
<g clip-path="url(#cr)"><path stroke="#FF0000" stroke-width="2.05" fill="none" d="M64.5 16.2L47.6 48.7M73.8 16.2L56.9 48.7M83.0 16.2L66.1 48.7M92.2 16.2L75.3 48.7M101.4 16.2L84.5 48.7M110.7 16.2L93.8 48.7M119.9 16.2L103.0 48.7M129.1 16.2L112.2 48.7M138.4 16.2L121.5 48.7M147.6 16.2L130.7 48.7M156.8 16.2L139.9 48.7M166.1 16.2L149.2 48.7M175.3 16.2L158.4 48.7M184.5 16.2L167.6 48.7M193.8 16.2L176.9 48.7M203.0 16.2L186.1 48.7M212.2 16.2L195.3 48.7M221.4 16.2L204.5 48.7M230.7 16.2L213.8 48.7M239.9 16.2L223.0 48.7M249.1 16.2L232.2 48.7M258.4 16.2L241.5 48.7M267.6 16.2L250.7 48.7M276.8 16.2L259.9 48.7M286.1 16.2L269.2 48.7M295.3 16.2L278.4 48.7M304.5 16.2L287.6 48.7M313.7 16.2L296.8 48.7M323.0 16.2L306.1 48.7M332.2 16.2L315.3 48.7M341.4 16.2L324.5 48.7M350.7 16.2L333.8 48.7M359.9 16.2L343.0 48.7M369.1 16.2L352.2 48.7M378.4 16.2L361.5 48.7M387.6 16.2L370.7 48.7M396.8 16.2L379.9 48.7M406.1 16.2L389.2 48.7M415.3 16.2L398.4 48.7M424.5 16.2L407.6 48.7M433.7 16.2L416.8 48.7M443.0 16.2L426.1 48.7M452.2 16.2L435.3 48.7M461.4 16.2L444.5 48.7M470.7 16.2L453.8 48.7M479.9 16.2L463.0 48.7M489.1 16.2L472.2 48.7M498.4 16.2L481.5 48.7M507.6 16.2L490.7 48.7M516.8 16.2L499.9 48.7M526.1 16.2L509.2 48.7M535.3 16.2L518.4 48.7M544.5 16.2L527.6 48.7M553.7 16.2L536.8 48.7M563.0 16.2L546.1 48.7M572.2 16.2L555.3 48.7M581.4 16.2L564.5 48.7M590.7 16.2L573.8 48.7M599.9 16.2L583.0 48.7M609.1 16.2L592.2 48.7M618.4 16.2L601.5 48.7M627.6 16.2L610.7 48.7M636.8 16.2L619.9 48.7M646.1 16.2L629.2 48.7M655.3 16.2L638.4 48.7M664.5 16.2L647.6 48.7M673.7 16.2L656.8 48.7M683.0 16.2L666.1 48.7M692.2 16.2L675.3 48.7M701.4 16.2L684.5 48.7M710.7 16.2L693.8 48.7M719.9 16.2L703.0 48.7M729.1 16.2L712.2 48.7M738.4 16.2L721.5 48.7M747.6 16.2L730.7 48.7M756.8 16.2L739.9 48.7M766.0 16.2L749.1 48.7M775.3 16.2L758.4 48.7M784.5 16.2L767.6 48.7M793.7 16.2L776.8 48.7M803.0 16.2L786.1 48.7M812.2 16.2L795.3 48.7M821.4 16.2L804.5 48.7M830.7 16.2L813.8 48.7"/></g>
<path d="M79.3 48.7H801.2" stroke="#FF0000" stroke-width="3.7"/>
</g>
<rect x="79.3" y="16.2" width="721.9" height="496.8" fill="none" stroke="#000" stroke-width="1.4"/>
<rect x="127.5" y="428.4" width="654.5" height="73.6" fill="#fff" stroke="#222" stroke-width="0.9"/>
<clipPath id="csv"><rect x="715.25" y="172.55" width="62.20" height="10.70"/></clipPath>
<g clip-path="url(#csv)"><path stroke="#C71585" stroke-width="1.90" fill="none" d="M696.4 172.6L707.1 183.2M702.7 172.6L713.4 183.2M709.0 172.6L719.7 183.2M715.3 172.6L726.0 183.2M721.6 172.6L732.3 183.2M727.9 172.6L738.6 183.2M734.2 172.6L744.9 183.2M740.5 172.6L751.2 183.2M746.8 172.6L757.5 183.2M753.1 172.6L763.8 183.2M759.4 172.6L770.1 183.2M765.7 172.6L776.4 183.2M772.0 172.6L782.7 183.2M778.3 172.6L789.0 183.2M784.6 172.6L795.3 183.2"/></g>
<g clip-path="url(#csv)"><path stroke="#C71585" stroke-width="1.90" fill="none" d="M706.2 172.6L695.5 183.2M712.5 172.6L701.8 183.2M718.8 172.6L708.1 183.2M725.1 172.6L714.4 183.2M731.4 172.6L720.7 183.2M737.7 172.6L727.0 183.2M744.0 172.6L733.3 183.2M750.3 172.6L739.6 183.2M756.6 172.6L745.9 183.2M762.9 172.6L752.2 183.2M769.2 172.6L758.5 183.2M775.5 172.6L764.8 183.2M781.8 172.6L771.1 183.2M788.1 172.6L777.4 183.2M794.4 172.6L783.7 183.2M800.7 172.6L790.0 183.2"/></g>
<rect x="715.25" y="172.55" width="62.20" height="10.70" fill="none" stroke="#C71585" stroke-width="1.3"/>
<rect x="715.0" y="207.0" width="62.9" height="11.7" fill="#BDB76B"/>
<clipPath id="csb"><rect x="715.25" y="242.05" width="62.20" height="10.90"/></clipPath>
<g clip-path="url(#csb)"><path stroke="#0000FF" stroke-width="2.00" fill="none" d="M683.2 242.1L694.0 252.9M696.0 242.1L707.0 252.9M709.0 242.1L719.9 252.9M721.9 242.1L732.8 252.9M734.8 242.1L745.6 252.9M747.7 242.1L758.5 252.9M760.5 242.1L771.5 252.9M773.5 242.1L784.3 252.9M786.3 242.1L797.2 252.9M799.2 242.1L810.2 252.9"/></g>
<rect x="715.25" y="242.05" width="62.20" height="10.90" fill="none" stroke="#0000FF" stroke-width="1.3"/>
<clipPath id="csm"><rect x="715.25" y="276.75" width="62.20" height="10.50"/></clipPath>
<g clip-path="url(#csm)"><path stroke="#FF00FF" stroke-width="1.60" fill="none" d="M692.8 276.8L682.2 287.2M705.8 276.8L695.3 287.2M718.9 276.8L708.4 287.2M732.0 276.8L721.5 287.2M745.1 276.8L734.6 287.2M758.2 276.8L747.8 287.2M771.3 276.8L760.8 287.2M784.5 276.8L774.0 287.2M797.5 276.8L787.0 287.2M810.6 276.8L800.1 287.2"/></g>
<rect x="715.25" y="276.75" width="62.20" height="10.50" fill="none" stroke="#FF00FF" stroke-width="1.3"/>
<clipPath id="csg"><rect x="715.25" y="310.85" width="62.20" height="10.80"/></clipPath>
<g clip-path="url(#csg)"><path stroke="#006400" stroke-width="2.00" fill="none" d="M702.8 310.8L708.4 321.7M708.2 310.8L713.8 321.7M713.6 310.8L719.2 321.7M719.0 310.8L724.6 321.7M724.4 310.8L730.0 321.7M729.8 310.8L735.4 321.7M735.2 310.8L740.8 321.7M740.6 310.8L746.2 321.7M746.0 310.8L751.6 321.7M751.4 310.8L757.0 321.7M756.8 310.8L762.4 321.7M762.2 310.8L767.8 321.7M767.6 310.8L773.2 321.7M773.0 310.8L778.6 321.7M778.4 310.8L784.0 321.7M783.8 310.8L789.4 321.7"/></g>
<rect x="715.25" y="310.85" width="62.20" height="10.80" fill="none" stroke="#006400" stroke-width="1.3"/>
<clipPath id="csr"><rect x="715.25" y="345.45" width="62.20" height="10.60"/></clipPath>
<g clip-path="url(#csr)"><path stroke="#FF0000" stroke-width="2.00" fill="none" d="M709.2 345.4L703.7 356.1M714.6 345.4L709.1 356.1M720.1 345.4L714.6 356.1M725.5 345.4L720.0 356.1M731.0 345.4L725.5 356.1M736.4 345.4L730.9 356.1M741.9 345.4L736.4 356.1M747.3 345.4L741.8 356.1M752.8 345.4L747.3 356.1M758.2 345.4L752.7 356.1M763.7 345.4L758.2 356.1M769.1 345.4L763.6 356.1M774.6 345.4L769.1 356.1M780.0 345.4L774.5 356.1M785.5 345.4L780.0 356.1M790.9 345.4L785.4 356.1"/></g>
<rect x="715.25" y="345.45" width="62.20" height="10.60" fill="none" stroke="#FF0000" stroke-width="1.3"/>
<g font-family="Liberation Sans, sans-serif" font-weight="bold" fill="#000">
<text transform="translate(69.30,25.90) scale(0.985,1)" font-size="23.60" text-anchor="end">6x10<tspan font-size="18.6" dy="-11.4">2</tspan></text>
<text transform="translate(69.30,56.13) scale(0.985,1)" font-size="23.60" text-anchor="end">5x10<tspan font-size="18.6" dy="-11.4">2</tspan></text>
<text transform="translate(69.30,93.13) scale(0.985,1)" font-size="23.60" text-anchor="end">4x10<tspan font-size="18.6" dy="-11.4">2</tspan></text>
<text transform="translate(69.30,140.84) scale(0.985,1)" font-size="23.60" text-anchor="end">3x10<tspan font-size="18.6" dy="-11.4">2</tspan></text>
<text transform="translate(69.30,208.07) scale(0.985,1)" font-size="23.60" text-anchor="end">2x10<tspan font-size="18.6" dy="-11.4">2</tspan></text>
<text transform="translate(69.30,323.01) scale(0.985,1)" font-size="23.60" text-anchor="end">1x10<tspan font-size="18.6" dy="-11.4">2</tspan></text>
<text transform="translate(69.30,370.71) scale(0.985,1)" font-size="23.60" text-anchor="end">7x10<tspan font-size="18.6" dy="-11.4">1</tspan></text>
<text transform="translate(69.30,437.95) scale(0.985,1)" font-size="23.60" text-anchor="end">5x10<tspan font-size="18.6" dy="-11.4">1</tspan></text>
<text transform="translate(69.30,522.65) scale(0.985,1)" font-size="23.60" text-anchor="end">3x10<tspan font-size="18.6" dy="-11.4">1</tspan></text>
<text transform="translate(79.30,541.70) scale(0.977,1)" font-size="35.50" text-anchor="middle">5</text>
<text transform="translate(127.43,541.70) scale(0.977,1)" font-size="35.50" text-anchor="middle">10</text>
<text transform="translate(223.68,541.70) scale(0.977,1)" font-size="35.50" text-anchor="middle">20</text>
<text transform="translate(319.93,541.70) scale(0.977,1)" font-size="35.50" text-anchor="middle">30</text>
<text transform="translate(416.19,541.70) scale(0.977,1)" font-size="35.50" text-anchor="middle">40</text>
<text transform="translate(512.44,541.70) scale(0.977,1)" font-size="35.50" text-anchor="middle">50</text>
<text transform="translate(608.69,541.70) scale(0.977,1)" font-size="35.50" text-anchor="middle">60</text>
<text transform="translate(704.95,541.70) scale(0.977,1)" font-size="35.50" text-anchor="middle">70</text>
<text transform="translate(801.20,541.70) scale(0.977,1)" font-size="35.50" text-anchor="middle">80</text>
<text transform="translate(374.30,559.20) scale(1.000,1)" font-size="25.50" text-anchor="start">m<tspan font-size="20.4" dy="8">S</tspan><tspan font-size="16.3" dy="-8.3">0</tspan><tspan dy="0.3" font-size="25.5"> in GeV</tspan></text>
<text transform="translate(23.9,293.8) rotate(-90) scale(0.91,1)" font-size="26.9">tan</text>
<text transform="translate(23.4,247.6) rotate(-90) scale(0.94,1)" font-family="Liberation Serif, serif" font-weight="normal" font-size="27.5">β</text>
<text x="611.0" y="183.8" font-family="Liberation Serif, serif" font-weight="normal" font-size="24.3">δ</text>
<text transform="translate(623.40,190.40) scale(0.900,1)" font-size="19.04" text-anchor="start">13</text>
<text transform="translate(701.70,183.80) scale(1.000,1)" font-size="23.80" text-anchor="end">= 0.1</text>
<text x="611.0" y="218.5" font-family="Liberation Serif, serif" font-weight="normal" font-size="24.3">δ</text>
<text transform="translate(623.40,225.10) scale(0.900,1)" font-size="19.04" text-anchor="start">13</text>
<text transform="translate(701.70,218.50) scale(1.000,1)" font-size="23.80" text-anchor="end">= 0.2</text>
<text x="611.0" y="253.2" font-family="Liberation Serif, serif" font-weight="normal" font-size="24.3">δ</text>
<text transform="translate(623.40,259.80) scale(0.900,1)" font-size="19.04" text-anchor="start">13</text>
<text transform="translate(701.70,253.20) scale(1.000,1)" font-size="23.80" text-anchor="end">= 0.3</text>
<text x="611.0" y="287.9" font-family="Liberation Serif, serif" font-weight="normal" font-size="24.3">δ</text>
<text transform="translate(623.40,294.50) scale(0.900,1)" font-size="19.04" text-anchor="start">13</text>
<text transform="translate(701.70,287.90) scale(1.000,1)" font-size="23.80" text-anchor="end">= 0.4</text>
<text x="611.0" y="322.6" font-family="Liberation Serif, serif" font-weight="normal" font-size="24.3">δ</text>
<text transform="translate(623.40,329.20) scale(0.900,1)" font-size="19.04" text-anchor="start">13</text>
<text transform="translate(701.70,322.60) scale(1.000,1)" font-size="23.80" text-anchor="end">= 0.5</text>
<text transform="translate(323.00,361.10) scale(0.968,1)" font-size="23.80" text-anchor="start">Forbidden Region: H</text>
<text transform="translate(551.30,350.70) scale(0.950,1)" font-size="19.04" text-anchor="start">0</text>
<text transform="translate(562.3,361.1) scale(1.25,1)" font-family="Liberation Serif, serif" font-weight="normal" font-size="24.3">τ</text>
<text transform="translate(572.30,350.70) scale(0.900,1)" font-size="19.04" text-anchor="start">+</text>
<text transform="translate(582.3,361.1) scale(1.25,1)" font-family="Liberation Serif, serif" font-weight="normal" font-size="24.3">τ</text>
<text transform="translate(592.90,350.70) scale(0.800,1)" font-size="19.04" text-anchor="start">-</text>
<text transform="translate(700.30,361.10) scale(0.967,1)" font-size="23.80" text-anchor="end">coupling</text>
<text transform="translate(136.00,472.40) scale(1.000,1)" font-size="29.10" text-anchor="start">m<tspan font-size="23.3" dy="8.7">H</tspan><tspan font-size="18.6" dy="-8.7">0</tspan></text>
<text transform="translate(196.60,472.40) scale(0.985,1)" font-size="29.10" text-anchor="start">= 600 GeV;</text>
<text transform="translate(353.10,472.40) scale(1.000,1)" font-size="29.10" text-anchor="start">m<tspan font-size="23.3" dy="8.7">A</tspan><tspan font-size="18.6" dy="-8.7">0</tspan></text>
<text transform="translate(413.70,472.40) scale(0.985,1)" font-size="29.10" text-anchor="start">= 400 GeV;</text>
<text transform="translate(569.00,472.40) scale(1.000,1)" font-size="29.10" text-anchor="start">m<tspan font-size="23.3" dy="8.7">H</tspan><tspan font-size="18.6" dy="-8.7" font-weight="normal" dx="-0.5">±</tspan></text>
<text transform="translate(634.10,472.40) scale(0.985,1)" font-size="29.10" text-anchor="start">= 600 GeV</text>
</g>
</svg>
</body></html>
